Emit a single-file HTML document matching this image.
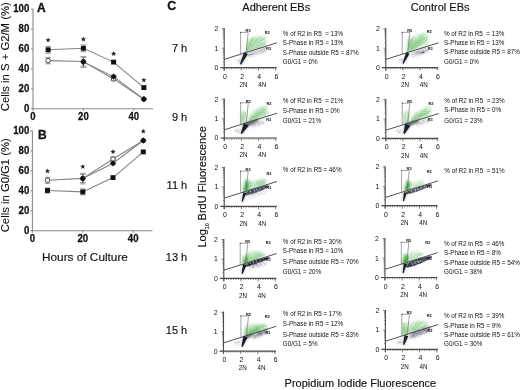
<!DOCTYPE html>
<html><head><meta charset="utf-8"><title>Figure</title>
<style>
html,body{margin:0;padding:0;background:#fff;width:520px;height:390px;overflow:hidden}
svg{display:block;filter:blur(0.35px)}
text{font-family:"Liberation Sans", sans-serif;fill:#111}
</style></head>
<body>
<svg xmlns="http://www.w3.org/2000/svg" width="520" height="390" viewBox="0 0 520 390">
<defs>
<filter id="b0" x="-50%" y="-50%" width="200%" height="200%"><feGaussianBlur stdDeviation="0.4"/></filter>
<filter id="b1" x="-50%" y="-50%" width="200%" height="200%"><feGaussianBlur stdDeviation="0.8"/></filter>
<filter id="b4" x="-50%" y="-50%" width="200%" height="200%"><feGaussianBlur stdDeviation="0.6"/></filter>
<filter id="b5" x="-50%" y="-50%" width="200%" height="200%"><feGaussianBlur in="SourceGraphic" stdDeviation="0.6" result="b"/><feTurbulence type="fractalNoise" baseFrequency="0.8 0.8" numOctaves="2" seed="9" result="n"/><feColorMatrix in="n" type="matrix" values="0 0 0 0 0 0 0 0 0 0 0 0 0 0 0 2.6 0 0 0 -0.3" result="na"/><feGaussianBlur in="na" stdDeviation="0.4" result="nb"/><feComposite in="b" in2="nb" operator="in"/></filter>
<filter id="b2" x="-50%" y="-50%" width="200%" height="200%"><feGaussianBlur stdDeviation="1.4"/></filter>
<filter id="b3" x="-50%" y="-50%" width="200%" height="200%"><feGaussianBlur in="SourceGraphic" stdDeviation="1.5" result="b"/><feTurbulence type="fractalNoise" baseFrequency="0.45 0.8" numOctaves="2" seed="4" result="n"/><feColorMatrix in="n" type="matrix" values="0 0 0 0 0 0 0 0 0 0 0 0 0 0 0 1.8 0 0 0 0.05" result="na"/><feGaussianBlur in="na" stdDeviation="0.5" result="nb"/><feComposite in="b" in2="nb" operator="in"/></filter>
</defs>
<rect width="520" height="390" fill="#fff"/>
<line x1="33" y1="8.7" x2="33" y2="109.3" stroke="#8a8a8a" stroke-width="1.1"/>
<line x1="32.5" y1="108.8" x2="153" y2="108.8" stroke="#8a8a8a" stroke-width="1.1"/>
<line x1="30.8" y1="108.8" x2="33" y2="108.8" stroke="#8a8a8a" stroke-width="1"/>
<text transform="translate(29.3,111.8) scale(1,1.12)" text-anchor="end" font-weight="bold" font-size="9.6" stroke="#111" stroke-width="0.25">0</text>
<line x1="30.8" y1="88.9" x2="33" y2="88.9" stroke="#8a8a8a" stroke-width="1"/>
<text transform="translate(29.3,91.9) scale(1,1.12)" text-anchor="end" font-weight="bold" font-size="9.6" stroke="#111" stroke-width="0.25">20</text>
<line x1="30.8" y1="69.0" x2="33" y2="69.0" stroke="#8a8a8a" stroke-width="1"/>
<text transform="translate(29.3,72.0) scale(1,1.12)" text-anchor="end" font-weight="bold" font-size="9.6" stroke="#111" stroke-width="0.25">40</text>
<line x1="30.8" y1="49.0" x2="33" y2="49.0" stroke="#8a8a8a" stroke-width="1"/>
<text transform="translate(29.3,52.0) scale(1,1.12)" text-anchor="end" font-weight="bold" font-size="9.6" stroke="#111" stroke-width="0.25">60</text>
<line x1="30.8" y1="29.1" x2="33" y2="29.1" stroke="#8a8a8a" stroke-width="1"/>
<text transform="translate(29.3,32.1) scale(1,1.12)" text-anchor="end" font-weight="bold" font-size="9.6" stroke="#111" stroke-width="0.25">80</text>
<line x1="30.8" y1="9.2" x2="33" y2="9.2" stroke="#8a8a8a" stroke-width="1"/>
<text transform="translate(29.3,12.2) scale(1,1.12)" text-anchor="end" font-weight="bold" font-size="9.6" stroke="#111" stroke-width="0.25">100</text>
<line x1="33.0" y1="108.8" x2="33.0" y2="110.8" stroke="#8a8a8a" stroke-width="1"/>
<text transform="translate(33.0,120.3) scale(1,1.12)" text-anchor="middle" font-weight="bold" font-size="9.6" stroke="#111" stroke-width="0.25">0</text>
<line x1="83.4" y1="108.8" x2="83.4" y2="110.8" stroke="#8a8a8a" stroke-width="1"/>
<text transform="translate(83.4,120.3) scale(1,1.12)" text-anchor="middle" font-weight="bold" font-size="9.6" stroke="#111" stroke-width="0.25">20</text>
<line x1="133.8" y1="108.8" x2="133.8" y2="110.8" stroke="#8a8a8a" stroke-width="1"/>
<text transform="translate(133.8,120.3) scale(1,1.12)" text-anchor="middle" font-weight="bold" font-size="9.6" stroke="#111" stroke-width="0.25">40</text>
<text transform="translate(9.2,111.2) rotate(-90)" font-size="11.3" stroke="#111" stroke-width="0.1">Cells in S + G2/M (%)</text>
<text x="37.0" y="12.4" font-weight="bold" font-size="12" stroke="#111" stroke-width="0.3">A</text>
<polyline points="48.1,60.6 83.4,61.5 113.6,78.9 143.9,99.2" fill="none" stroke="#858585" stroke-width="1.1"/>
<polyline points="83.4,62.1 113.6,76.6 143.9,99.2" fill="none" stroke="#858585" stroke-width="1.1"/>
<polyline points="48.1,49.8 83.4,48.3 113.6,62.1 143.9,87.6" fill="none" stroke="#858585" stroke-width="1.1"/>
<line x1="48.1" y1="57.4" x2="48.1" y2="63.8" stroke="#666" stroke-width="0.8"/>
<line x1="45.2" y1="57.4" x2="51.0" y2="57.4" stroke="#777" stroke-width="0.75"/>
<line x1="45.2" y1="63.8" x2="51.0" y2="63.8" stroke="#777" stroke-width="0.75"/>
<circle cx="48.1" cy="60.6" r="2.3" fill="#fff" stroke="#333" stroke-width="0.9"/>
<line x1="83.4" y1="57.0" x2="83.4" y2="66.0" stroke="#666" stroke-width="0.8"/>
<line x1="80.5" y1="57.0" x2="86.3" y2="57.0" stroke="#777" stroke-width="0.75"/>
<line x1="80.5" y1="66.0" x2="86.3" y2="66.0" stroke="#777" stroke-width="0.75"/>
<circle cx="83.4" cy="61.5" r="2.3" fill="#fff" stroke="#333" stroke-width="0.9"/>
<line x1="113.6" y1="77.1" x2="113.6" y2="80.7" stroke="#666" stroke-width="0.8"/>
<line x1="110.7" y1="77.1" x2="116.5" y2="77.1" stroke="#777" stroke-width="0.75"/>
<line x1="110.7" y1="80.7" x2="116.5" y2="80.7" stroke="#777" stroke-width="0.75"/>
<circle cx="113.6" cy="78.9" r="2.3" fill="#fff" stroke="#333" stroke-width="0.9"/>
<circle cx="143.9" cy="99.2" r="2.3" fill="#fff" stroke="#333" stroke-width="0.9"/>
<line x1="83.4" y1="56.8" x2="83.4" y2="67.4" stroke="#666" stroke-width="0.8"/>
<line x1="80.5" y1="56.8" x2="86.3" y2="56.8" stroke="#777" stroke-width="0.75"/>
<line x1="80.5" y1="67.4" x2="86.3" y2="67.4" stroke="#777" stroke-width="0.75"/>
<path d="M83.4,59.0 L86.5,62.1 L83.4,65.2 L80.3,62.1 Z" fill="#111"/>
<line x1="113.6" y1="75.1" x2="113.6" y2="78.1" stroke="#666" stroke-width="0.8"/>
<line x1="110.7" y1="75.1" x2="116.5" y2="75.1" stroke="#777" stroke-width="0.75"/>
<line x1="110.7" y1="78.1" x2="116.5" y2="78.1" stroke="#777" stroke-width="0.75"/>
<path d="M113.6,73.5 L116.7,76.6 L113.6,79.7 L110.5,76.6 Z" fill="#111"/>
<path d="M143.9,96.1 L147.0,99.2 L143.9,102.3 L140.8,99.2 Z" fill="#111"/>
<line x1="48.1" y1="46.4" x2="48.1" y2="53.2" stroke="#666" stroke-width="0.8"/>
<line x1="45.2" y1="46.4" x2="51.0" y2="46.4" stroke="#777" stroke-width="0.75"/>
<line x1="45.2" y1="53.2" x2="51.0" y2="53.2" stroke="#777" stroke-width="0.75"/>
<rect x="45.6" y="47.4" width="5" height="4.8" fill="#111"/>
<line x1="83.4" y1="44.9" x2="83.4" y2="51.7" stroke="#666" stroke-width="0.8"/>
<line x1="80.5" y1="44.9" x2="86.3" y2="44.9" stroke="#777" stroke-width="0.75"/>
<line x1="80.5" y1="51.7" x2="86.3" y2="51.7" stroke="#777" stroke-width="0.75"/>
<rect x="80.9" y="45.9" width="5" height="4.8" fill="#111"/>
<rect x="111.1" y="59.7" width="5" height="4.8" fill="#111"/>
<rect x="141.4" y="85.2" width="5" height="4.8" fill="#111"/>
<path d="M48.12,37.35 L48.80,39.17 L50.74,39.25 L49.21,40.46 L49.74,42.32 L48.12,41.25 L46.50,42.32 L47.03,40.46 L45.50,39.25 L47.44,39.17Z" fill="#222"/>
<path d="M83.40,36.55 L84.08,38.37 L86.02,38.45 L84.49,39.66 L85.02,41.52 L83.40,40.45 L81.78,41.52 L82.31,39.66 L80.78,38.45 L82.72,38.37Z" fill="#222"/>
<path d="M113.64,51.05 L114.32,52.87 L116.26,52.95 L114.73,54.16 L115.26,56.02 L113.64,54.95 L112.02,56.02 L112.55,54.16 L111.02,52.95 L112.96,52.87Z" fill="#222"/>
<path d="M143.88,77.45 L144.56,79.27 L146.50,79.35 L144.97,80.56 L145.50,82.42 L143.88,81.35 L142.26,82.42 L142.79,80.56 L141.26,79.35 L143.20,79.27Z" fill="#222"/>
<line x1="32.4" y1="130.6" x2="32.4" y2="231.2" stroke="#8a8a8a" stroke-width="1.1"/>
<line x1="31.9" y1="230.7" x2="152.4" y2="230.7" stroke="#8a8a8a" stroke-width="1.1"/>
<line x1="30.2" y1="230.7" x2="32.4" y2="230.7" stroke="#8a8a8a" stroke-width="1"/>
<text transform="translate(29.3,233.7) scale(1,1.12)" text-anchor="end" font-weight="bold" font-size="9.6" stroke="#111" stroke-width="0.25">0</text>
<line x1="30.2" y1="210.8" x2="32.4" y2="210.8" stroke="#8a8a8a" stroke-width="1"/>
<text transform="translate(29.3,213.8) scale(1,1.12)" text-anchor="end" font-weight="bold" font-size="9.6" stroke="#111" stroke-width="0.25">20</text>
<line x1="30.2" y1="190.9" x2="32.4" y2="190.9" stroke="#8a8a8a" stroke-width="1"/>
<text transform="translate(29.3,193.9) scale(1,1.12)" text-anchor="end" font-weight="bold" font-size="9.6" stroke="#111" stroke-width="0.25">40</text>
<line x1="30.2" y1="170.9" x2="32.4" y2="170.9" stroke="#8a8a8a" stroke-width="1"/>
<text transform="translate(29.3,173.9) scale(1,1.12)" text-anchor="end" font-weight="bold" font-size="9.6" stroke="#111" stroke-width="0.25">60</text>
<line x1="30.2" y1="151.0" x2="32.4" y2="151.0" stroke="#8a8a8a" stroke-width="1"/>
<text transform="translate(29.3,154.0) scale(1,1.12)" text-anchor="end" font-weight="bold" font-size="9.6" stroke="#111" stroke-width="0.25">80</text>
<line x1="30.2" y1="131.1" x2="32.4" y2="131.1" stroke="#8a8a8a" stroke-width="1"/>
<text transform="translate(29.3,134.1) scale(1,1.12)" text-anchor="end" font-weight="bold" font-size="9.6" stroke="#111" stroke-width="0.25">100</text>
<line x1="32.4" y1="230.7" x2="32.4" y2="232.7" stroke="#8a8a8a" stroke-width="1"/>
<text transform="translate(32.4,242.2) scale(1,1.12)" text-anchor="middle" font-weight="bold" font-size="9.6" stroke="#111" stroke-width="0.25">0</text>
<line x1="82.8" y1="230.7" x2="82.8" y2="232.7" stroke="#8a8a8a" stroke-width="1"/>
<text transform="translate(82.8,242.2) scale(1,1.12)" text-anchor="middle" font-weight="bold" font-size="9.6" stroke="#111" stroke-width="0.25">20</text>
<line x1="133.2" y1="230.7" x2="133.2" y2="232.7" stroke="#8a8a8a" stroke-width="1"/>
<text transform="translate(133.2,242.2) scale(1,1.12)" text-anchor="middle" font-weight="bold" font-size="9.6" stroke="#111" stroke-width="0.25">40</text>
<text transform="translate(9.2,232.3) rotate(-90)" font-size="11.3" stroke="#111" stroke-width="0.1">Cells in G0/G1 (%)</text>
<text x="38.0" y="138.7" font-weight="bold" font-size="12" stroke="#111" stroke-width="0.3">B</text>
<polyline points="47.5,180.3 82.8,178.4 113.0,159.0 143.3,140.5" fill="none" stroke="#858585" stroke-width="1.1"/>
<polyline points="82.8,178.6 113.0,163.3 143.3,140.5" fill="none" stroke="#858585" stroke-width="1.1"/>
<polyline points="47.5,190.5 82.8,191.9 113.0,177.6 143.3,151.9" fill="none" stroke="#858585" stroke-width="1.1"/>
<line x1="47.5" y1="177.3" x2="47.5" y2="183.3" stroke="#666" stroke-width="0.8"/>
<line x1="44.6" y1="177.3" x2="50.4" y2="177.3" stroke="#777" stroke-width="0.75"/>
<line x1="44.6" y1="183.3" x2="50.4" y2="183.3" stroke="#777" stroke-width="0.75"/>
<circle cx="47.5" cy="180.3" r="2.3" fill="#fff" stroke="#333" stroke-width="0.9"/>
<line x1="82.8" y1="174.4" x2="82.8" y2="182.4" stroke="#666" stroke-width="0.8"/>
<line x1="79.9" y1="174.4" x2="85.7" y2="174.4" stroke="#777" stroke-width="0.75"/>
<line x1="79.9" y1="182.4" x2="85.7" y2="182.4" stroke="#777" stroke-width="0.75"/>
<circle cx="82.8" cy="178.4" r="2.3" fill="#fff" stroke="#333" stroke-width="0.9"/>
<line x1="113.0" y1="157.0" x2="113.0" y2="161.0" stroke="#666" stroke-width="0.8"/>
<line x1="110.1" y1="157.0" x2="115.9" y2="157.0" stroke="#777" stroke-width="0.75"/>
<line x1="110.1" y1="161.0" x2="115.9" y2="161.0" stroke="#777" stroke-width="0.75"/>
<circle cx="113.0" cy="159.0" r="2.3" fill="#fff" stroke="#333" stroke-width="0.9"/>
<circle cx="143.3" cy="140.5" r="2.3" fill="#fff" stroke="#333" stroke-width="0.9"/>
<line x1="82.8" y1="173.3" x2="82.8" y2="183.9" stroke="#666" stroke-width="0.8"/>
<line x1="79.9" y1="173.3" x2="85.7" y2="173.3" stroke="#777" stroke-width="0.75"/>
<line x1="79.9" y1="183.9" x2="85.7" y2="183.9" stroke="#777" stroke-width="0.75"/>
<path d="M82.8,175.5 L85.9,178.6 L82.8,181.7 L79.7,178.6 Z" fill="#111"/>
<line x1="113.0" y1="161.8" x2="113.0" y2="164.8" stroke="#666" stroke-width="0.8"/>
<line x1="110.1" y1="161.8" x2="115.9" y2="161.8" stroke="#777" stroke-width="0.75"/>
<line x1="110.1" y1="164.8" x2="115.9" y2="164.8" stroke="#777" stroke-width="0.75"/>
<path d="M113.0,160.2 L116.1,163.3 L113.0,166.4 L109.9,163.3 Z" fill="#111"/>
<path d="M143.3,137.4 L146.4,140.5 L143.3,143.6 L140.2,140.5 Z" fill="#111"/>
<line x1="47.5" y1="188.0" x2="47.5" y2="193.0" stroke="#666" stroke-width="0.8"/>
<line x1="44.6" y1="188.0" x2="50.4" y2="188.0" stroke="#777" stroke-width="0.75"/>
<line x1="44.6" y1="193.0" x2="50.4" y2="193.0" stroke="#777" stroke-width="0.75"/>
<rect x="45.0" y="188.1" width="5" height="4.8" fill="#111"/>
<line x1="82.8" y1="188.9" x2="82.8" y2="194.9" stroke="#666" stroke-width="0.8"/>
<line x1="79.9" y1="188.9" x2="85.7" y2="188.9" stroke="#777" stroke-width="0.75"/>
<line x1="79.9" y1="194.9" x2="85.7" y2="194.9" stroke="#777" stroke-width="0.75"/>
<rect x="80.3" y="189.5" width="5" height="4.8" fill="#111"/>
<rect x="110.5" y="175.2" width="5" height="4.8" fill="#111"/>
<rect x="140.8" y="149.5" width="5" height="4.8" fill="#111"/>
<path d="M47.52,168.45 L48.20,170.27 L50.14,170.35 L48.61,171.56 L49.14,173.42 L47.52,172.35 L45.90,173.42 L46.43,171.56 L44.90,170.35 L46.84,170.27Z" fill="#222"/>
<path d="M82.80,163.95 L83.48,165.77 L85.42,165.85 L83.89,167.06 L84.42,168.92 L82.80,167.85 L81.18,168.92 L81.71,167.06 L80.18,165.85 L82.12,165.77Z" fill="#222"/>
<path d="M113.04,149.05 L113.72,150.87 L115.66,150.95 L114.13,152.16 L114.66,154.02 L113.04,152.95 L111.42,154.02 L111.95,152.16 L110.42,150.95 L112.36,150.87Z" fill="#222"/>
<path d="M143.28,128.65 L143.96,130.47 L145.90,130.55 L144.37,131.76 L144.90,133.62 L143.28,132.55 L141.66,133.62 L142.19,131.76 L140.66,130.55 L142.60,130.47Z" fill="#222"/>
<text x="42.0" y="260.8" font-size="11.8" stroke="#111" stroke-width="0.15">Hours of Culture</text>
<text x="167.2" y="9.7" font-weight="bold" font-size="12.4" stroke="#111" stroke-width="0.3">C</text>
<text x="242.3" y="10.6" font-size="11" stroke="#111" stroke-width="0.15">Adherent EBs</text>
<text x="410.8" y="10.6" font-size="11" stroke="#111" stroke-width="0.15">Control EBs</text>
<text x="284.6" y="387" font-size="11" stroke="#111" stroke-width="0.15">Propidium Iodide Fluorescence</text>
<text transform="translate(205.6,247.6) rotate(-90)" font-size="11" stroke="#111" stroke-width="0.15">Log<tspan font-size="5.2" dy="3.0">10</tspan><tspan dy="-3.0"> BrdU Fluorescence</tspan></text>
<text x="187.2" y="51.7" text-anchor="end" font-size="11" stroke="#111" stroke-width="0.15">7 h</text>
<text x="187.2" y="120.9" text-anchor="end" font-size="11" stroke="#111" stroke-width="0.15">9 h</text>
<text x="187.2" y="188.8" text-anchor="end" font-size="11" stroke="#111" stroke-width="0.15">11 h</text>
<text x="187.2" y="260.9" text-anchor="end" font-size="11" stroke="#111" stroke-width="0.15">13 h</text>
<text x="187.2" y="333.5" text-anchor="end" font-size="11" stroke="#111" stroke-width="0.15">15 h</text>
<g transform="translate(224.2,67.6)">
<path d="M13.2,-4.7 L16.6,-6.9 L15.4,-9.1 L11.8,-7.3Z" fill="#9a9aa8" opacity="0.3" filter="url(#b2)"/>
<g fill="#555570" filter="url(#b0)"><circle cx="15.5" cy="-8.0" r="0.58" opacity="0.22"/><circle cx="15.8" cy="-7.2" r="0.68" opacity="0.13"/><circle cx="13.9" cy="-5.9" r="0.47" opacity="0.32"/><circle cx="16.3" cy="-7.4" r="0.47" opacity="0.22"/><circle cx="13.9" cy="-6.9" r="0.47" opacity="0.18"/><circle cx="12.8" cy="-7.1" r="0.50" opacity="0.14"/></g>
<path d="M21.5,-15.0 L23.0,-26.0 L27.0,-30.0 L33.0,-31.0 L40.5,-31.5 L42.0,-29.0 L42.0,-21.4Z" fill="#a2d8a2" opacity="0.637" filter="url(#b3)"/>
<clipPath id="cp1"><path d="M21.5,-15.0 L23.0,-26.0 L27.0,-30.0 L33.0,-31.0 L40.5,-31.5 L42.0,-29.0 L42.0,-21.4Z"/></clipPath><g clip-path="url(#cp1)"><g filter="url(#b4)" stroke="#62b362" stroke-linecap="round"><line x1="23.5" y1="-18.7" x2="26.9" y2="-27.5" stroke-width="0.38" opacity="0.13"/><line x1="25.9" y1="-17.8" x2="40.3" y2="-30.1" stroke-width="0.73" opacity="0.22"/><line x1="26.4" y1="-18.6" x2="35.9" y2="-31.1" stroke-width="0.68" opacity="0.26"/><line x1="22.9" y1="-15.5" x2="22.9" y2="-25.5" stroke-width="0.74" opacity="0.22"/><line x1="26.2" y1="-16.2" x2="37.7" y2="-24.4" stroke-width="0.71" opacity="0.21"/><line x1="23.2" y1="-16.6" x2="42.6" y2="-24.4" stroke-width="0.78" opacity="0.21"/><line x1="24.8" y1="-17.7" x2="35.6" y2="-29.7" stroke-width="0.61" opacity="0.24"/><line x1="33.0" y1="-20.2" x2="41.8" y2="-26.2" stroke-width="0.65" opacity="0.16"/><line x1="30.1" y1="-17.9" x2="40.9" y2="-23.6" stroke-width="0.45" opacity="0.29"/><line x1="27.5" y1="-22.0" x2="34.4" y2="-29.9" stroke-width="0.39" opacity="0.28"/><line x1="25.6" y1="-21.7" x2="30.7" y2="-31.1" stroke-width="0.37" opacity="0.25"/><line x1="22.2" y1="-19.9" x2="22.5" y2="-25.8" stroke-width="0.58" opacity="0.32"/><line x1="23.4" y1="-17.5" x2="28.5" y2="-31.8" stroke-width="0.53" opacity="0.25"/><line x1="24.5" y1="-23.4" x2="25.0" y2="-32.1" stroke-width="0.75" opacity="0.20"/><line x1="25.5" y1="-18.4" x2="31.9" y2="-27.7" stroke-width="0.63" opacity="0.31"/><line x1="24.8" y1="-17.5" x2="32.9" y2="-28.5" stroke-width="0.79" opacity="0.23"/><line x1="22.3" y1="-15.0" x2="33.8" y2="-32.4" stroke-width="0.63" opacity="0.25"/><line x1="22.5" y1="-16.7" x2="22.9" y2="-26.7" stroke-width="0.67" opacity="0.27"/><line x1="23.1" y1="-16.3" x2="22.0" y2="-31.9" stroke-width="0.56" opacity="0.24"/><line x1="23.8" y1="-19.4" x2="28.7" y2="-29.1" stroke-width="0.49" opacity="0.20"/><line x1="25.3" y1="-17.3" x2="38.9" y2="-32.3" stroke-width="0.45" opacity="0.28"/><line x1="22.5" y1="-15.4" x2="26.9" y2="-30.8" stroke-width="0.49" opacity="0.19"/><line x1="26.7" y1="-17.8" x2="40.3" y2="-28.4" stroke-width="0.64" opacity="0.30"/><line x1="22.0" y1="-16.4" x2="31.6" y2="-30.4" stroke-width="0.71" opacity="0.29"/><line x1="24.5" y1="-20.8" x2="25.6" y2="-29.9" stroke-width="0.51" opacity="0.15"/><line x1="22.9" y1="-17.3" x2="28.1" y2="-25.1" stroke-width="0.54" opacity="0.21"/><line x1="30.1" y1="-21.6" x2="42.2" y2="-31.1" stroke-width="0.79" opacity="0.21"/><line x1="30.4" y1="-18.4" x2="42.9" y2="-23.9" stroke-width="0.65" opacity="0.23"/><line x1="23.4" y1="-19.8" x2="28.0" y2="-29.3" stroke-width="0.48" opacity="0.28"/><line x1="22.9" y1="-18.6" x2="22.5" y2="-24.1" stroke-width="0.75" opacity="0.24"/><line x1="21.4" y1="-18.8" x2="21.8" y2="-25.6" stroke-width="0.59" opacity="0.21"/><line x1="30.8" y1="-20.4" x2="42.6" y2="-26.8" stroke-width="0.56" opacity="0.28"/><line x1="23.2" y1="-15.7" x2="29.4" y2="-30.7" stroke-width="0.71" opacity="0.30"/><line x1="28.8" y1="-19.1" x2="39.6" y2="-24.9" stroke-width="0.37" opacity="0.18"/><line x1="24.3" y1="-19.9" x2="27.5" y2="-27.6" stroke-width="0.35" opacity="0.14"/><line x1="22.3" y1="-21.4" x2="24.4" y2="-31.3" stroke-width="0.39" opacity="0.22"/><line x1="23.9" y1="-19.1" x2="28.6" y2="-29.6" stroke-width="0.51" opacity="0.16"/><line x1="23.9" y1="-17.7" x2="28.9" y2="-31.4" stroke-width="0.39" opacity="0.16"/></g></g>
<path d="M24.0,-14.3 L42.0,-19.9 L42.0,-16.4 L24.0,-10.8Z" fill="#7c7a94" opacity="0.55" filter="url(#b3)"/>
<g fill="#555570" filter="url(#b0)"><circle cx="40.2" cy="-18.9" r="0.57" opacity="0.33"/><circle cx="33.8" cy="-14.7" r="0.39" opacity="0.32"/><circle cx="37.8" cy="-18.5" r="0.69" opacity="0.29"/><circle cx="24.0" cy="-11.9" r="0.47" opacity="0.32"/><circle cx="40.1" cy="-17.2" r="0.52" opacity="0.30"/><circle cx="29.4" cy="-14.4" r="0.39" opacity="0.49"/><circle cx="38.7" cy="-15.5" r="0.51" opacity="0.42"/><circle cx="41.6" cy="-19.7" r="0.67" opacity="0.55"/><circle cx="24.3" cy="-12.7" r="0.53" opacity="0.45"/><circle cx="27.5" cy="-13.0" r="0.74" opacity="0.58"/><circle cx="25.9" cy="-13.1" r="0.69" opacity="0.55"/><circle cx="24.7" cy="-11.3" r="0.42" opacity="0.37"/></g>
<path d="M17.4,-2.7 L23.7,-13.6 L19.9,-15.4 L15.2,-3.7Z" fill="#4a5060" opacity=".38" filter="url(#b2)"/>
<path d="M16.8,-2.9 L23.7,-13.6 L19.9,-15.4 L15.8,-3.5Z" fill="#121826" opacity="0.95" filter="url(#b4)"/>
<line x1="0" y1="-39.5" x2="0" y2="2.8" stroke="#4a4a4a" stroke-width="1.1"/>
<line x1="-4" y1="0" x2="52.5" y2="0" stroke="#4a4a4a" stroke-width="1.2"/>
<line x1="0.00" y1="0" x2="0.00" y2="1.6" stroke="#555" stroke-width="0.7"/>
<line x1="2.45" y1="0" x2="2.45" y2="1.6" stroke="#555" stroke-width="0.7"/>
<line x1="4.90" y1="0" x2="4.90" y2="1.6" stroke="#555" stroke-width="0.7"/>
<line x1="7.35" y1="0" x2="7.35" y2="1.6" stroke="#555" stroke-width="0.7"/>
<line x1="9.79" y1="0" x2="9.79" y2="1.6" stroke="#555" stroke-width="0.7"/>
<line x1="12.24" y1="0" x2="12.24" y2="1.6" stroke="#555" stroke-width="0.7"/>
<line x1="14.69" y1="0" x2="14.69" y2="1.6" stroke="#555" stroke-width="0.7"/>
<line x1="17.14" y1="0" x2="17.14" y2="1.6" stroke="#555" stroke-width="0.7"/>
<line x1="19.59" y1="0" x2="19.59" y2="1.6" stroke="#555" stroke-width="0.7"/>
<line x1="22.04" y1="0" x2="22.04" y2="1.6" stroke="#555" stroke-width="0.7"/>
<line x1="24.49" y1="0" x2="24.49" y2="1.6" stroke="#555" stroke-width="0.7"/>
<line x1="26.93" y1="0" x2="26.93" y2="1.6" stroke="#555" stroke-width="0.7"/>
<line x1="29.38" y1="0" x2="29.38" y2="1.6" stroke="#555" stroke-width="0.7"/>
<line x1="31.83" y1="0" x2="31.83" y2="1.6" stroke="#555" stroke-width="0.7"/>
<line x1="34.28" y1="0" x2="34.28" y2="1.6" stroke="#555" stroke-width="0.7"/>
<line x1="36.73" y1="0" x2="36.73" y2="1.6" stroke="#555" stroke-width="0.7"/>
<line x1="39.18" y1="0" x2="39.18" y2="1.6" stroke="#555" stroke-width="0.7"/>
<line x1="41.63" y1="0" x2="41.63" y2="1.6" stroke="#555" stroke-width="0.7"/>
<line x1="44.07" y1="0" x2="44.07" y2="1.6" stroke="#555" stroke-width="0.7"/>
<line x1="46.52" y1="0" x2="46.52" y2="1.6" stroke="#555" stroke-width="0.7"/>
<line x1="48.97" y1="0" x2="48.97" y2="1.6" stroke="#555" stroke-width="0.7"/>
<line x1="51.42" y1="0" x2="51.42" y2="1.6" stroke="#555" stroke-width="0.7"/>
<line x1="0.00" y1="0" x2="0.00" y2="3" stroke="#555" stroke-width="0.7"/>
<line x1="17.14" y1="0" x2="17.14" y2="3" stroke="#555" stroke-width="0.7"/>
<line x1="34.28" y1="0" x2="34.28" y2="3" stroke="#555" stroke-width="0.7"/>
<line x1="51.42" y1="0" x2="51.42" y2="3" stroke="#555" stroke-width="0.7"/>
<line x1="-2.4" y1="-0.00" x2="0" y2="-0.00" stroke="#555" stroke-width="0.6"/>
<line x1="-1.4" y1="-5.84" x2="0" y2="-5.84" stroke="#555" stroke-width="0.6"/>
<line x1="-1.4" y1="-9.26" x2="0" y2="-9.26" stroke="#555" stroke-width="0.6"/>
<line x1="-1.4" y1="-11.68" x2="0" y2="-11.68" stroke="#555" stroke-width="0.6"/>
<line x1="-1.4" y1="-13.56" x2="0" y2="-13.56" stroke="#555" stroke-width="0.6"/>
<line x1="-1.4" y1="-15.10" x2="0" y2="-15.10" stroke="#555" stroke-width="0.6"/>
<line x1="-1.4" y1="-16.39" x2="0" y2="-16.39" stroke="#555" stroke-width="0.6"/>
<line x1="-1.4" y1="-17.52" x2="0" y2="-17.52" stroke="#555" stroke-width="0.6"/>
<line x1="-1.4" y1="-18.51" x2="0" y2="-18.51" stroke="#555" stroke-width="0.6"/>
<line x1="-2.4" y1="-19.40" x2="0" y2="-19.40" stroke="#555" stroke-width="0.6"/>
<line x1="-1.4" y1="-25.24" x2="0" y2="-25.24" stroke="#555" stroke-width="0.6"/>
<line x1="-1.4" y1="-28.66" x2="0" y2="-28.66" stroke="#555" stroke-width="0.6"/>
<line x1="-1.4" y1="-31.08" x2="0" y2="-31.08" stroke="#555" stroke-width="0.6"/>
<line x1="-1.4" y1="-32.96" x2="0" y2="-32.96" stroke="#555" stroke-width="0.6"/>
<line x1="-1.4" y1="-34.50" x2="0" y2="-34.50" stroke="#555" stroke-width="0.6"/>
<line x1="-1.4" y1="-35.79" x2="0" y2="-35.79" stroke="#555" stroke-width="0.6"/>
<line x1="-1.4" y1="-36.92" x2="0" y2="-36.92" stroke="#555" stroke-width="0.6"/>
<line x1="-1.4" y1="-37.91" x2="0" y2="-37.91" stroke="#555" stroke-width="0.6"/>
<line x1="-2.4" y1="-38.80" x2="0" y2="-38.80" stroke="#555" stroke-width="0.7"/>
<text x="-7.9" y="2.40" text-anchor="middle" font-size="6.9" fill="#222">0</text>
<text x="-7.9" y="-17.00" text-anchor="middle" font-size="6.9" fill="#222">1</text>
<text x="-7.9" y="-36.40" text-anchor="middle" font-size="6.9" fill="#222">2</text>
<text x="0.80" y="11.0" text-anchor="middle" font-size="6.9" fill="#222">0</text>
<text x="17.94" y="11.0" text-anchor="middle" font-size="6.9" fill="#222">2</text>
<text x="35.08" y="11.0" text-anchor="middle" font-size="6.9" fill="#222">4</text>
<text x="52.22" y="11.0" text-anchor="middle" font-size="6.9" fill="#222">6</text>
<text x="19.3" y="19.4" text-anchor="middle" font-size="7" textLength="8" lengthAdjust="spacingAndGlyphs" fill="#222">2N</text>
<text x="38.0" y="19.4" text-anchor="middle" font-size="7" textLength="8" lengthAdjust="spacingAndGlyphs" fill="#222">4N</text>
<line x1="0" y1="-8.2" x2="52.8" y2="-24.83" stroke="#333" stroke-width="0.85"/>
<g transform="translate(0,0)">
<polyline points="16.4,-13.4 16.4,-35.2 24,-35.2 21.9,-14.9" fill="none" stroke="#666" stroke-width="0.6"/>
<circle cx="16.4" cy="-35.2" r="0.6" fill="#444"/>
<text x="21.4" y="-35.4" font-size="3.9" font-weight="bold" fill="#444">R5</text>
</g>
<text x="40.6" y="-34" font-size="3.9" font-weight="bold" fill="#555">R2</text>
<text x="42" y="-17.4" font-size="3.9" font-weight="bold" fill="#555">R3</text>
</g>
<g transform="translate(224.3,138.0)">
<path d="M12.6,-4.3 L16.3,-7.2 L14.7,-9.8 L10.4,-7.7Z" fill="#9a9aa8" opacity="0.35" filter="url(#b2)"/>
<g fill="#555570" filter="url(#b0)"><circle cx="13.2" cy="-6.2" r="0.64" opacity="0.19"/><circle cx="10.5" cy="-7.7" r="0.49" opacity="0.34"/><circle cx="14.5" cy="-6.5" r="0.60" opacity="0.31"/><circle cx="11.3" cy="-7.4" r="0.45" opacity="0.36"/><circle cx="12.4" cy="-7.6" r="0.71" opacity="0.16"/><circle cx="11.1" cy="-7.5" r="0.44" opacity="0.23"/></g>
<path d="M16.0,-13.2 L16.0,-26.7 L23.0,-26.7 L23.0,-15.4Z" fill="#a2d8a2" opacity="0.425" filter="url(#b3)"/>
<clipPath id="cp2"><path d="M16.0,-13.2 L16.0,-26.7 L23.0,-26.7 L23.0,-15.4Z"/></clipPath><g clip-path="url(#cp2)"><g filter="url(#b4)" stroke="#62b362" stroke-linecap="round"><line x1="18.9" y1="-18.1" x2="21.1" y2="-24.4" stroke-width="0.72" opacity="0.18"/><line x1="16.8" y1="-18.5" x2="17.4" y2="-23.7" stroke-width="0.80" opacity="0.10"/><line x1="19.0" y1="-16.8" x2="23.7" y2="-23.0" stroke-width="0.56" opacity="0.18"/><line x1="20.0" y1="-19.3" x2="22.0" y2="-26.7" stroke-width="0.63" opacity="0.10"/><line x1="18.3" y1="-16.0" x2="16.0" y2="-26.7" stroke-width="0.75" opacity="0.13"/><line x1="17.7" y1="-17.8" x2="20.9" y2="-24.3" stroke-width="0.42" opacity="0.12"/><line x1="17.9" y1="-17.5" x2="19.7" y2="-27.4" stroke-width="0.59" opacity="0.21"/><line x1="16.5" y1="-13.6" x2="17.3" y2="-23.3" stroke-width="0.70" opacity="0.10"/><line x1="18.5" y1="-15.0" x2="17.5" y2="-21.5" stroke-width="0.46" opacity="0.13"/><line x1="16.0" y1="-14.4" x2="21.6" y2="-26.3" stroke-width="0.64" opacity="0.20"/><line x1="16.4" y1="-13.4" x2="23.0" y2="-24.0" stroke-width="0.67" opacity="0.14"/><line x1="17.2" y1="-15.8" x2="18.9" y2="-27.1" stroke-width="0.74" opacity="0.18"/><line x1="18.5" y1="-16.3" x2="18.2" y2="-23.6" stroke-width="0.38" opacity="0.16"/><line x1="17.6" y1="-16.2" x2="20.2" y2="-24.6" stroke-width="0.57" opacity="0.11"/></g></g>
<path d="M20.7,-14.9 L21.5,-25.9 L19.5,-26.1 L18.3,-15.1Z" fill="#52b052" opacity="0.3" filter="url(#b3)"/>
<path d="M22.5,-15.3 L28.2,-26.7 L36.4,-31.8 L42.6,-32.8 L44.0,-30.0 L44.0,-22.1Z" fill="#a2d8a2" opacity="0.51" filter="url(#b3)"/>
<clipPath id="cp3"><path d="M22.5,-15.3 L28.2,-26.7 L36.4,-31.8 L42.6,-32.8 L44.0,-30.0 L44.0,-22.1Z"/></clipPath><g clip-path="url(#cp3)"><g filter="url(#b4)" stroke="#62b362" stroke-linecap="round"><line x1="24.6" y1="-15.8" x2="28.6" y2="-27.1" stroke-width="0.45" opacity="0.13"/><line x1="22.6" y1="-16.4" x2="27.8" y2="-26.6" stroke-width="0.48" opacity="0.18"/><line x1="23.1" y1="-16.6" x2="42.2" y2="-27.9" stroke-width="0.74" opacity="0.24"/><line x1="31.2" y1="-18.9" x2="41.4" y2="-25.7" stroke-width="0.47" opacity="0.25"/><line x1="25.6" y1="-17.4" x2="33.9" y2="-26.4" stroke-width="0.54" opacity="0.16"/><line x1="24.9" y1="-18.3" x2="25.3" y2="-25.8" stroke-width="0.60" opacity="0.23"/><line x1="23.5" y1="-17.1" x2="25.7" y2="-27.2" stroke-width="0.59" opacity="0.15"/><line x1="25.6" y1="-18.9" x2="33.3" y2="-27.9" stroke-width="0.46" opacity="0.15"/><line x1="24.3" y1="-22.3" x2="27.1" y2="-30.2" stroke-width="0.53" opacity="0.23"/><line x1="31.4" y1="-22.5" x2="44.4" y2="-33.4" stroke-width="0.64" opacity="0.13"/><line x1="25.8" y1="-15.8" x2="32.2" y2="-25.3" stroke-width="0.73" opacity="0.17"/><line x1="30.4" y1="-21.4" x2="39.3" y2="-32.5" stroke-width="0.45" opacity="0.21"/><line x1="25.2" y1="-17.1" x2="36.2" y2="-28.0" stroke-width="0.48" opacity="0.14"/><line x1="27.6" y1="-21.5" x2="38.6" y2="-32.7" stroke-width="0.60" opacity="0.20"/><line x1="22.9" y1="-16.1" x2="23.4" y2="-29.5" stroke-width="0.80" opacity="0.13"/><line x1="25.2" y1="-19.7" x2="29.6" y2="-31.2" stroke-width="0.52" opacity="0.24"/><line x1="23.3" y1="-18.5" x2="22.6" y2="-30.5" stroke-width="0.56" opacity="0.22"/><line x1="25.7" y1="-21.5" x2="29.5" y2="-33.5" stroke-width="0.47" opacity="0.22"/><line x1="26.1" y1="-17.5" x2="42.5" y2="-31.3" stroke-width="0.48" opacity="0.14"/><line x1="26.0" y1="-22.7" x2="30.7" y2="-33.4" stroke-width="0.62" opacity="0.11"/><line x1="26.3" y1="-18.0" x2="40.7" y2="-31.9" stroke-width="0.48" opacity="0.18"/><line x1="22.4" y1="-15.8" x2="25.7" y2="-25.4" stroke-width="0.49" opacity="0.17"/><line x1="23.1" y1="-22.9" x2="23.3" y2="-32.5" stroke-width="0.80" opacity="0.12"/><line x1="29.3" y1="-23.2" x2="35.1" y2="-32.5" stroke-width="0.60" opacity="0.13"/><line x1="24.4" y1="-19.7" x2="22.6" y2="-31.4" stroke-width="0.52" opacity="0.17"/><line x1="32.3" y1="-22.8" x2="41.3" y2="-31.7" stroke-width="0.58" opacity="0.26"/><line x1="28.0" y1="-20.7" x2="32.9" y2="-28.2" stroke-width="0.40" opacity="0.13"/><line x1="29.1" y1="-20.6" x2="35.0" y2="-25.9" stroke-width="0.48" opacity="0.12"/><line x1="24.2" y1="-22.3" x2="23.7" y2="-33.5" stroke-width="0.74" opacity="0.27"/><line x1="30.3" y1="-20.0" x2="41.5" y2="-29.7" stroke-width="0.48" opacity="0.23"/><line x1="25.4" y1="-17.4" x2="25.1" y2="-30.8" stroke-width="0.70" opacity="0.18"/><line x1="22.6" y1="-24.0" x2="22.6" y2="-33.5" stroke-width="0.46" opacity="0.25"/><line x1="29.6" y1="-18.4" x2="42.6" y2="-29.7" stroke-width="0.47" opacity="0.18"/></g></g>
<path d="M27.0,-16.3 L42.3,-24.9 L39.7,-29.1 L25.0,-19.7Z" fill="#52b052" opacity="0.4" filter="url(#b3)"/>
<path d="M27.0,-14.2 L40.0,-18.3 L40.0,-14.3 L27.0,-10.2Z" fill="#7c7a94" opacity="0.35" filter="url(#b3)"/>
<g fill="#555570" filter="url(#b0)"><circle cx="30.4" cy="-13.2" r="0.73" opacity="0.36"/><circle cx="39.4" cy="-14.7" r="0.47" opacity="0.23"/><circle cx="38.8" cy="-15.6" r="0.55" opacity="0.30"/><circle cx="37.5" cy="-14.3" r="0.42" opacity="0.29"/><circle cx="29.5" cy="-12.7" r="0.49" opacity="0.31"/><circle cx="27.3" cy="-12.6" r="0.72" opacity="0.20"/><circle cx="35.4" cy="-15.9" r="0.44" opacity="0.30"/><circle cx="34.8" cy="-14.7" r="0.44" opacity="0.30"/><circle cx="34.2" cy="-14.8" r="0.45" opacity="0.37"/><circle cx="34.9" cy="-14.1" r="0.55" opacity="0.38"/></g>
<path d="M19.5,-14.3 L34.0,-18.9 L34.0,-16.9 L19.5,-10.1Z" fill="#121826" opacity="0.75" filter="url(#b1)"/>
<path d="M18.1,-3.8 L24.4,-12.2 L19.6,-14.8 L15.9,-5.0Z" fill="#4a5060" opacity=".38" filter="url(#b2)"/>
<path d="M17.6,-4.1 L24.4,-12.2 L19.6,-14.8 L16.4,-4.7Z" fill="#121826" opacity="0.95" filter="url(#b4)"/>
<line x1="0" y1="-39.5" x2="0" y2="2.8" stroke="#4a4a4a" stroke-width="1.1"/>
<line x1="-4" y1="0" x2="52.5" y2="0" stroke="#4a4a4a" stroke-width="1.2"/>
<line x1="0.00" y1="0" x2="0.00" y2="1.6" stroke="#555" stroke-width="0.7"/>
<line x1="2.45" y1="0" x2="2.45" y2="1.6" stroke="#555" stroke-width="0.7"/>
<line x1="4.90" y1="0" x2="4.90" y2="1.6" stroke="#555" stroke-width="0.7"/>
<line x1="7.35" y1="0" x2="7.35" y2="1.6" stroke="#555" stroke-width="0.7"/>
<line x1="9.79" y1="0" x2="9.79" y2="1.6" stroke="#555" stroke-width="0.7"/>
<line x1="12.24" y1="0" x2="12.24" y2="1.6" stroke="#555" stroke-width="0.7"/>
<line x1="14.69" y1="0" x2="14.69" y2="1.6" stroke="#555" stroke-width="0.7"/>
<line x1="17.14" y1="0" x2="17.14" y2="1.6" stroke="#555" stroke-width="0.7"/>
<line x1="19.59" y1="0" x2="19.59" y2="1.6" stroke="#555" stroke-width="0.7"/>
<line x1="22.04" y1="0" x2="22.04" y2="1.6" stroke="#555" stroke-width="0.7"/>
<line x1="24.49" y1="0" x2="24.49" y2="1.6" stroke="#555" stroke-width="0.7"/>
<line x1="26.93" y1="0" x2="26.93" y2="1.6" stroke="#555" stroke-width="0.7"/>
<line x1="29.38" y1="0" x2="29.38" y2="1.6" stroke="#555" stroke-width="0.7"/>
<line x1="31.83" y1="0" x2="31.83" y2="1.6" stroke="#555" stroke-width="0.7"/>
<line x1="34.28" y1="0" x2="34.28" y2="1.6" stroke="#555" stroke-width="0.7"/>
<line x1="36.73" y1="0" x2="36.73" y2="1.6" stroke="#555" stroke-width="0.7"/>
<line x1="39.18" y1="0" x2="39.18" y2="1.6" stroke="#555" stroke-width="0.7"/>
<line x1="41.63" y1="0" x2="41.63" y2="1.6" stroke="#555" stroke-width="0.7"/>
<line x1="44.07" y1="0" x2="44.07" y2="1.6" stroke="#555" stroke-width="0.7"/>
<line x1="46.52" y1="0" x2="46.52" y2="1.6" stroke="#555" stroke-width="0.7"/>
<line x1="48.97" y1="0" x2="48.97" y2="1.6" stroke="#555" stroke-width="0.7"/>
<line x1="51.42" y1="0" x2="51.42" y2="1.6" stroke="#555" stroke-width="0.7"/>
<line x1="0.00" y1="0" x2="0.00" y2="3" stroke="#555" stroke-width="0.7"/>
<line x1="17.14" y1="0" x2="17.14" y2="3" stroke="#555" stroke-width="0.7"/>
<line x1="34.28" y1="0" x2="34.28" y2="3" stroke="#555" stroke-width="0.7"/>
<line x1="51.42" y1="0" x2="51.42" y2="3" stroke="#555" stroke-width="0.7"/>
<line x1="-2.4" y1="-0.00" x2="0" y2="-0.00" stroke="#555" stroke-width="0.6"/>
<line x1="-1.4" y1="-5.84" x2="0" y2="-5.84" stroke="#555" stroke-width="0.6"/>
<line x1="-1.4" y1="-9.26" x2="0" y2="-9.26" stroke="#555" stroke-width="0.6"/>
<line x1="-1.4" y1="-11.68" x2="0" y2="-11.68" stroke="#555" stroke-width="0.6"/>
<line x1="-1.4" y1="-13.56" x2="0" y2="-13.56" stroke="#555" stroke-width="0.6"/>
<line x1="-1.4" y1="-15.10" x2="0" y2="-15.10" stroke="#555" stroke-width="0.6"/>
<line x1="-1.4" y1="-16.39" x2="0" y2="-16.39" stroke="#555" stroke-width="0.6"/>
<line x1="-1.4" y1="-17.52" x2="0" y2="-17.52" stroke="#555" stroke-width="0.6"/>
<line x1="-1.4" y1="-18.51" x2="0" y2="-18.51" stroke="#555" stroke-width="0.6"/>
<line x1="-2.4" y1="-19.40" x2="0" y2="-19.40" stroke="#555" stroke-width="0.6"/>
<line x1="-1.4" y1="-25.24" x2="0" y2="-25.24" stroke="#555" stroke-width="0.6"/>
<line x1="-1.4" y1="-28.66" x2="0" y2="-28.66" stroke="#555" stroke-width="0.6"/>
<line x1="-1.4" y1="-31.08" x2="0" y2="-31.08" stroke="#555" stroke-width="0.6"/>
<line x1="-1.4" y1="-32.96" x2="0" y2="-32.96" stroke="#555" stroke-width="0.6"/>
<line x1="-1.4" y1="-34.50" x2="0" y2="-34.50" stroke="#555" stroke-width="0.6"/>
<line x1="-1.4" y1="-35.79" x2="0" y2="-35.79" stroke="#555" stroke-width="0.6"/>
<line x1="-1.4" y1="-36.92" x2="0" y2="-36.92" stroke="#555" stroke-width="0.6"/>
<line x1="-1.4" y1="-37.91" x2="0" y2="-37.91" stroke="#555" stroke-width="0.6"/>
<line x1="-2.4" y1="-38.80" x2="0" y2="-38.80" stroke="#555" stroke-width="0.7"/>
<text x="-7.9" y="2.40" text-anchor="middle" font-size="6.9" fill="#222">0</text>
<text x="-7.9" y="-17.00" text-anchor="middle" font-size="6.9" fill="#222">1</text>
<text x="-7.9" y="-36.40" text-anchor="middle" font-size="6.9" fill="#222">2</text>
<text x="0.80" y="11.0" text-anchor="middle" font-size="6.9" fill="#222">0</text>
<text x="17.94" y="11.0" text-anchor="middle" font-size="6.9" fill="#222">2</text>
<text x="35.08" y="11.0" text-anchor="middle" font-size="6.9" fill="#222">4</text>
<text x="52.22" y="11.0" text-anchor="middle" font-size="6.9" fill="#222">6</text>
<text x="19.3" y="19.4" text-anchor="middle" font-size="7" textLength="8" lengthAdjust="spacingAndGlyphs" fill="#222">2N</text>
<text x="38.0" y="19.4" text-anchor="middle" font-size="7" textLength="8" lengthAdjust="spacingAndGlyphs" fill="#222">4N</text>
<line x1="0" y1="-8.2" x2="52.8" y2="-24.83" stroke="#333" stroke-width="0.85"/>
<g transform="translate(0,0)">
<polyline points="16.4,-13.4 16.4,-35.2 24,-35.2 21.9,-14.9" fill="none" stroke="#666" stroke-width="0.6"/>
<circle cx="16.4" cy="-35.2" r="0.6" fill="#444"/>
<text x="21.4" y="-35.4" font-size="3.9" font-weight="bold" fill="#444">R5</text>
</g>
<text x="42.1" y="-33.3" font-size="3.9" font-weight="bold" fill="#555">R2</text>
<text x="42" y="-17.4" font-size="3.9" font-weight="bold" fill="#555">R3</text>
</g>
<g transform="translate(224.2,206.3)">
<path d="M23.0,-15.4 L25.0,-24.5 L32.0,-26.0 L39.0,-28.0 L43.0,-25.0 L43.0,-21.7Z" fill="#a2d8a2" opacity="0.51" filter="url(#b3)"/>
<clipPath id="cp4"><path d="M23.0,-15.4 L25.0,-24.5 L32.0,-26.0 L39.0,-28.0 L43.0,-25.0 L43.0,-21.7Z"/></clipPath><g clip-path="url(#cp4)"><g filter="url(#b4)" stroke="#62b362" stroke-linecap="round"><line x1="34.5" y1="-22.4" x2="44.2" y2="-28.9" stroke-width="0.36" opacity="0.25"/><line x1="28.0" y1="-17.1" x2="38.0" y2="-22.8" stroke-width="0.67" opacity="0.15"/><line x1="26.8" y1="-19.7" x2="28.8" y2="-27.3" stroke-width="0.45" opacity="0.26"/><line x1="24.2" y1="-16.1" x2="34.3" y2="-27.3" stroke-width="0.60" opacity="0.17"/><line x1="29.3" y1="-18.5" x2="35.5" y2="-22.2" stroke-width="0.80" opacity="0.19"/><line x1="32.5" y1="-22.1" x2="43.8" y2="-28.9" stroke-width="0.66" opacity="0.23"/><line x1="25.8" y1="-16.8" x2="29.3" y2="-25.4" stroke-width="0.37" opacity="0.19"/><line x1="25.2" y1="-16.3" x2="41.5" y2="-25.0" stroke-width="0.78" opacity="0.17"/><line x1="26.6" y1="-20.8" x2="28.2" y2="-26.7" stroke-width="0.50" opacity="0.18"/><line x1="25.2" y1="-15.9" x2="24.6" y2="-22.4" stroke-width="0.57" opacity="0.17"/><line x1="25.3" y1="-16.0" x2="41.5" y2="-22.2" stroke-width="0.75" opacity="0.26"/><line x1="24.0" y1="-14.7" x2="26.5" y2="-25.4" stroke-width="0.38" opacity="0.25"/><line x1="28.7" y1="-18.9" x2="35.5" y2="-25.6" stroke-width="0.47" opacity="0.12"/><line x1="24.4" y1="-17.6" x2="23.2" y2="-26.6" stroke-width="0.63" opacity="0.22"/><line x1="30.1" y1="-20.2" x2="36.1" y2="-26.7" stroke-width="0.75" opacity="0.11"/><line x1="24.6" y1="-16.2" x2="37.7" y2="-26.5" stroke-width="0.46" opacity="0.27"/><line x1="25.6" y1="-16.9" x2="30.3" y2="-22.4" stroke-width="0.62" opacity="0.22"/><line x1="25.5" y1="-19.8" x2="30.5" y2="-28.6" stroke-width="0.40" opacity="0.25"/><line x1="26.1" y1="-16.7" x2="35.7" y2="-26.6" stroke-width="0.50" opacity="0.23"/><line x1="29.3" y1="-19.5" x2="35.1" y2="-25.5" stroke-width="0.35" opacity="0.24"/><line x1="25.7" y1="-17.8" x2="26.4" y2="-24.2" stroke-width="0.60" opacity="0.23"/><line x1="24.6" y1="-16.1" x2="31.1" y2="-27.3" stroke-width="0.59" opacity="0.18"/><line x1="25.7" y1="-19.3" x2="26.4" y2="-23.9" stroke-width="0.79" opacity="0.22"/></g></g>
<path d="M35.0,-19.3 L42.0,-23.3 L40.0,-26.7 L33.0,-22.7Z" fill="#52b052" opacity="0.35" filter="url(#b3)"/>
<path d="M23.9,-14.1 L24.7,-26.2 L21.3,-26.8 L18.5,-14.9Z" fill="#2a9a34" opacity="0.8" filter="url(#b3)"/>
<path d="M23.0,-15.7 L24.0,-23.3 L21.6,-23.7 L20.0,-16.3Z" fill="#2a9a34" opacity="0.7" filter="url(#b1)"/>
<path d="M19.8,-11.6 L21.9,-14.0 L24.1,-15.1 L26.2,-16.0 L28.4,-16.8 L30.5,-17.6 L32.6,-18.3 L34.8,-18.9 L36.9,-19.5 L39.1,-20.1 L41.2,-20.6 L43.4,-21.0 L45.5,-20.5 L45.5,-20.5 L43.4,-18.6 L41.2,-17.5 L39.1,-16.5 L36.9,-15.6 L34.8,-14.7 L32.6,-13.9 L30.5,-13.1 L28.4,-12.4 L26.2,-11.7 L24.1,-11.2 L21.9,-10.8 L19.8,-11.6Z" fill="#2e3448" opacity="0.9" filter="url(#b5)"/>
<path d="M24.0,-11.3 L42.0,-16.9 L42.0,-13.9 L24.0,-8.3Z" fill="#8a8aa0" opacity="0.35" filter="url(#b3)"/>
<path d="M19.1,-4.3 L22.0,-13.3 L19.0,-14.1 L16.9,-4.9Z" fill="#4a5060" opacity=".38" filter="url(#b2)"/>
<path d="M18.5,-4.5 L22.0,-13.3 L19.0,-14.1 L17.5,-4.7Z" fill="#121826" opacity="0.95" filter="url(#b4)"/>
<line x1="0" y1="-39.5" x2="0" y2="2.8" stroke="#4a4a4a" stroke-width="1.1"/>
<line x1="-4" y1="0" x2="52.5" y2="0" stroke="#4a4a4a" stroke-width="1.2"/>
<line x1="0.00" y1="0" x2="0.00" y2="1.6" stroke="#555" stroke-width="0.7"/>
<line x1="2.45" y1="0" x2="2.45" y2="1.6" stroke="#555" stroke-width="0.7"/>
<line x1="4.90" y1="0" x2="4.90" y2="1.6" stroke="#555" stroke-width="0.7"/>
<line x1="7.35" y1="0" x2="7.35" y2="1.6" stroke="#555" stroke-width="0.7"/>
<line x1="9.79" y1="0" x2="9.79" y2="1.6" stroke="#555" stroke-width="0.7"/>
<line x1="12.24" y1="0" x2="12.24" y2="1.6" stroke="#555" stroke-width="0.7"/>
<line x1="14.69" y1="0" x2="14.69" y2="1.6" stroke="#555" stroke-width="0.7"/>
<line x1="17.14" y1="0" x2="17.14" y2="1.6" stroke="#555" stroke-width="0.7"/>
<line x1="19.59" y1="0" x2="19.59" y2="1.6" stroke="#555" stroke-width="0.7"/>
<line x1="22.04" y1="0" x2="22.04" y2="1.6" stroke="#555" stroke-width="0.7"/>
<line x1="24.49" y1="0" x2="24.49" y2="1.6" stroke="#555" stroke-width="0.7"/>
<line x1="26.93" y1="0" x2="26.93" y2="1.6" stroke="#555" stroke-width="0.7"/>
<line x1="29.38" y1="0" x2="29.38" y2="1.6" stroke="#555" stroke-width="0.7"/>
<line x1="31.83" y1="0" x2="31.83" y2="1.6" stroke="#555" stroke-width="0.7"/>
<line x1="34.28" y1="0" x2="34.28" y2="1.6" stroke="#555" stroke-width="0.7"/>
<line x1="36.73" y1="0" x2="36.73" y2="1.6" stroke="#555" stroke-width="0.7"/>
<line x1="39.18" y1="0" x2="39.18" y2="1.6" stroke="#555" stroke-width="0.7"/>
<line x1="41.63" y1="0" x2="41.63" y2="1.6" stroke="#555" stroke-width="0.7"/>
<line x1="44.07" y1="0" x2="44.07" y2="1.6" stroke="#555" stroke-width="0.7"/>
<line x1="46.52" y1="0" x2="46.52" y2="1.6" stroke="#555" stroke-width="0.7"/>
<line x1="48.97" y1="0" x2="48.97" y2="1.6" stroke="#555" stroke-width="0.7"/>
<line x1="51.42" y1="0" x2="51.42" y2="1.6" stroke="#555" stroke-width="0.7"/>
<line x1="0.00" y1="0" x2="0.00" y2="3" stroke="#555" stroke-width="0.7"/>
<line x1="17.14" y1="0" x2="17.14" y2="3" stroke="#555" stroke-width="0.7"/>
<line x1="34.28" y1="0" x2="34.28" y2="3" stroke="#555" stroke-width="0.7"/>
<line x1="51.42" y1="0" x2="51.42" y2="3" stroke="#555" stroke-width="0.7"/>
<line x1="-2.4" y1="-0.00" x2="0" y2="-0.00" stroke="#555" stroke-width="0.6"/>
<line x1="-1.4" y1="-5.84" x2="0" y2="-5.84" stroke="#555" stroke-width="0.6"/>
<line x1="-1.4" y1="-9.26" x2="0" y2="-9.26" stroke="#555" stroke-width="0.6"/>
<line x1="-1.4" y1="-11.68" x2="0" y2="-11.68" stroke="#555" stroke-width="0.6"/>
<line x1="-1.4" y1="-13.56" x2="0" y2="-13.56" stroke="#555" stroke-width="0.6"/>
<line x1="-1.4" y1="-15.10" x2="0" y2="-15.10" stroke="#555" stroke-width="0.6"/>
<line x1="-1.4" y1="-16.39" x2="0" y2="-16.39" stroke="#555" stroke-width="0.6"/>
<line x1="-1.4" y1="-17.52" x2="0" y2="-17.52" stroke="#555" stroke-width="0.6"/>
<line x1="-1.4" y1="-18.51" x2="0" y2="-18.51" stroke="#555" stroke-width="0.6"/>
<line x1="-2.4" y1="-19.40" x2="0" y2="-19.40" stroke="#555" stroke-width="0.6"/>
<line x1="-1.4" y1="-25.24" x2="0" y2="-25.24" stroke="#555" stroke-width="0.6"/>
<line x1="-1.4" y1="-28.66" x2="0" y2="-28.66" stroke="#555" stroke-width="0.6"/>
<line x1="-1.4" y1="-31.08" x2="0" y2="-31.08" stroke="#555" stroke-width="0.6"/>
<line x1="-1.4" y1="-32.96" x2="0" y2="-32.96" stroke="#555" stroke-width="0.6"/>
<line x1="-1.4" y1="-34.50" x2="0" y2="-34.50" stroke="#555" stroke-width="0.6"/>
<line x1="-1.4" y1="-35.79" x2="0" y2="-35.79" stroke="#555" stroke-width="0.6"/>
<line x1="-1.4" y1="-36.92" x2="0" y2="-36.92" stroke="#555" stroke-width="0.6"/>
<line x1="-1.4" y1="-37.91" x2="0" y2="-37.91" stroke="#555" stroke-width="0.6"/>
<line x1="-2.4" y1="-38.80" x2="0" y2="-38.80" stroke="#555" stroke-width="0.7"/>
<text x="-7.9" y="2.40" text-anchor="middle" font-size="6.9" fill="#222">0</text>
<text x="-7.9" y="-17.00" text-anchor="middle" font-size="6.9" fill="#222">1</text>
<text x="-7.9" y="-36.40" text-anchor="middle" font-size="6.9" fill="#222">2</text>
<text x="0.80" y="11.0" text-anchor="middle" font-size="6.9" fill="#222">0</text>
<text x="17.94" y="11.0" text-anchor="middle" font-size="6.9" fill="#222">2</text>
<text x="35.08" y="11.0" text-anchor="middle" font-size="6.9" fill="#222">4</text>
<text x="52.22" y="11.0" text-anchor="middle" font-size="6.9" fill="#222">6</text>
<text x="19.3" y="19.4" text-anchor="middle" font-size="7" textLength="8" lengthAdjust="spacingAndGlyphs" fill="#222">2N</text>
<text x="38.0" y="19.4" text-anchor="middle" font-size="7" textLength="8" lengthAdjust="spacingAndGlyphs" fill="#222">4N</text>
<line x1="0" y1="-8.2" x2="52.8" y2="-24.83" stroke="#333" stroke-width="0.85"/>
<g transform="translate(0,0)">
<polyline points="16.4,-13.4 16.4,-35.2 24,-35.2 21.9,-14.9" fill="none" stroke="#666" stroke-width="0.6"/>
<circle cx="16.4" cy="-35.2" r="0.6" fill="#444"/>
<text x="21.4" y="-35.4" font-size="3.9" font-weight="bold" fill="#444">R5</text>
</g>
<text x="42.2" y="-31.6" font-size="3.9" font-weight="bold" fill="#555">R2</text>
<text x="42" y="-17.4" font-size="3.9" font-weight="bold" fill="#555">R3</text>
</g>
<g transform="translate(223.8,278.4)">
<path d="M20.0,-14.5 L22.0,-25.0 L26.0,-27.0 L36.0,-27.0 L42.0,-24.0 L42.0,-21.4Z" fill="#a2d8a2" opacity="0.637" filter="url(#b3)"/>
<clipPath id="cp5"><path d="M20.0,-14.5 L22.0,-25.0 L26.0,-27.0 L36.0,-27.0 L42.0,-24.0 L42.0,-21.4Z"/></clipPath><g clip-path="url(#cp5)"><g filter="url(#b4)" stroke="#62b362" stroke-linecap="round"><line x1="21.3" y1="-14.7" x2="43.0" y2="-27.0" stroke-width="0.40" opacity="0.25"/><line x1="21.3" y1="-14.9" x2="28.3" y2="-21.6" stroke-width="0.62" opacity="0.31"/><line x1="28.3" y1="-18.0" x2="36.4" y2="-21.3" stroke-width="0.62" opacity="0.19"/><line x1="22.6" y1="-16.8" x2="24.6" y2="-21.8" stroke-width="0.78" opacity="0.24"/><line x1="22.6" y1="-15.1" x2="36.8" y2="-23.6" stroke-width="0.70" opacity="0.31"/><line x1="23.5" y1="-15.3" x2="35.6" y2="-27.0" stroke-width="0.37" opacity="0.23"/><line x1="21.0" y1="-15.9" x2="20.8" y2="-21.3" stroke-width="0.65" opacity="0.30"/><line x1="23.1" y1="-18.0" x2="27.4" y2="-25.3" stroke-width="0.59" opacity="0.21"/><line x1="22.3" y1="-15.4" x2="36.2" y2="-24.2" stroke-width="0.54" opacity="0.21"/><line x1="22.1" y1="-15.0" x2="42.3" y2="-21.1" stroke-width="0.75" opacity="0.16"/><line x1="21.5" y1="-15.8" x2="33.1" y2="-25.5" stroke-width="0.37" opacity="0.23"/><line x1="20.3" y1="-14.4" x2="39.1" y2="-23.3" stroke-width="0.53" opacity="0.29"/><line x1="27.6" y1="-17.2" x2="42.1" y2="-24.7" stroke-width="0.61" opacity="0.32"/><line x1="24.7" y1="-16.0" x2="37.8" y2="-24.6" stroke-width="0.70" opacity="0.29"/><line x1="24.0" y1="-16.6" x2="34.6" y2="-21.2" stroke-width="0.50" opacity="0.16"/><line x1="28.1" y1="-20.0" x2="36.6" y2="-24.9" stroke-width="0.51" opacity="0.15"/><line x1="22.8" y1="-16.7" x2="25.2" y2="-26.2" stroke-width="0.39" opacity="0.22"/><line x1="23.2" y1="-18.6" x2="25.0" y2="-25.5" stroke-width="0.37" opacity="0.20"/><line x1="23.7" y1="-17.1" x2="40.4" y2="-27.8" stroke-width="0.69" opacity="0.27"/><line x1="20.3" y1="-15.3" x2="31.1" y2="-26.2" stroke-width="0.65" opacity="0.16"/><line x1="25.9" y1="-17.2" x2="41.3" y2="-23.3" stroke-width="0.37" opacity="0.22"/><line x1="19.9" y1="-18.3" x2="20.7" y2="-22.4" stroke-width="0.73" opacity="0.17"/><line x1="25.5" y1="-19.2" x2="32.8" y2="-27.0" stroke-width="0.35" opacity="0.20"/><line x1="25.8" y1="-17.3" x2="35.4" y2="-26.7" stroke-width="0.51" opacity="0.29"/><line x1="25.2" y1="-20.0" x2="32.3" y2="-26.6" stroke-width="0.58" opacity="0.26"/><line x1="28.4" y1="-17.4" x2="39.6" y2="-20.9" stroke-width="0.69" opacity="0.20"/><line x1="22.7" y1="-17.5" x2="35.7" y2="-26.6" stroke-width="0.46" opacity="0.23"/><line x1="27.8" y1="-17.7" x2="43.3" y2="-26.9" stroke-width="0.59" opacity="0.28"/></g></g>
<path d="M22.9,-13.9 L24.4,-22.0 L20.6,-23.0 L18.1,-15.1Z" fill="#3caa3c" opacity="0.85" filter="url(#b3)"/>
<path d="M22.9,-15.6 L24.4,-20.6 L21.6,-21.4 L20.1,-16.4Z" fill="#3caa3c" opacity="0.6" filter="url(#b1)"/>
<path d="M20.5,-12.3 L22.7,-14.4 L24.8,-15.5 L27.0,-16.4 L29.2,-17.2 L31.3,-17.9 L33.5,-18.7 L35.7,-19.3 L37.8,-19.9 L40.0,-20.5 L42.2,-21.0 L44.3,-21.4 L46.5,-21.1 L46.5,-21.1 L44.3,-19.4 L42.2,-18.3 L40.0,-17.4 L37.8,-16.4 L35.7,-15.6 L33.5,-14.8 L31.3,-14.0 L29.2,-13.3 L27.0,-12.6 L24.8,-12.0 L22.7,-11.6 L20.5,-12.3Z" fill="#1e2333" opacity="0.95" filter="url(#b5)"/>
<path d="M26.0,-12.4 L42.0,-17.4 L42.0,-14.4 L26.0,-9.4Z" fill="#7c7a94" opacity="0.55" filter="url(#b3)"/>
<g fill="#555570" filter="url(#b0)"><circle cx="35.0" cy="-12.2" r="0.48" opacity="0.37"/><circle cx="28.9" cy="-10.9" r="0.50" opacity="0.56"/><circle cx="32.8" cy="-14.0" r="0.67" opacity="0.56"/><circle cx="37.5" cy="-13.7" r="0.48" opacity="0.36"/><circle cx="26.0" cy="-11.7" r="0.40" opacity="0.31"/><circle cx="41.5" cy="-14.3" r="0.52" opacity="0.29"/><circle cx="29.8" cy="-11.9" r="0.65" opacity="0.28"/><circle cx="35.4" cy="-14.4" r="0.43" opacity="0.54"/><circle cx="29.5" cy="-13.1" r="0.63" opacity="0.43"/></g>
<path d="M19.4,-4.3 L22.7,-13.5 L19.3,-14.5 L17.2,-4.9Z" fill="#4a5060" opacity=".38" filter="url(#b2)"/>
<path d="M18.8,-4.4 L22.7,-13.5 L19.3,-14.5 L17.8,-4.8Z" fill="#121826" opacity="1" filter="url(#b4)"/>
<line x1="0" y1="-39.5" x2="0" y2="2.8" stroke="#4a4a4a" stroke-width="1.1"/>
<line x1="-4" y1="0" x2="52.5" y2="0" stroke="#4a4a4a" stroke-width="1.2"/>
<line x1="0.00" y1="0" x2="0.00" y2="1.6" stroke="#555" stroke-width="0.7"/>
<line x1="2.45" y1="0" x2="2.45" y2="1.6" stroke="#555" stroke-width="0.7"/>
<line x1="4.90" y1="0" x2="4.90" y2="1.6" stroke="#555" stroke-width="0.7"/>
<line x1="7.35" y1="0" x2="7.35" y2="1.6" stroke="#555" stroke-width="0.7"/>
<line x1="9.79" y1="0" x2="9.79" y2="1.6" stroke="#555" stroke-width="0.7"/>
<line x1="12.24" y1="0" x2="12.24" y2="1.6" stroke="#555" stroke-width="0.7"/>
<line x1="14.69" y1="0" x2="14.69" y2="1.6" stroke="#555" stroke-width="0.7"/>
<line x1="17.14" y1="0" x2="17.14" y2="1.6" stroke="#555" stroke-width="0.7"/>
<line x1="19.59" y1="0" x2="19.59" y2="1.6" stroke="#555" stroke-width="0.7"/>
<line x1="22.04" y1="0" x2="22.04" y2="1.6" stroke="#555" stroke-width="0.7"/>
<line x1="24.49" y1="0" x2="24.49" y2="1.6" stroke="#555" stroke-width="0.7"/>
<line x1="26.93" y1="0" x2="26.93" y2="1.6" stroke="#555" stroke-width="0.7"/>
<line x1="29.38" y1="0" x2="29.38" y2="1.6" stroke="#555" stroke-width="0.7"/>
<line x1="31.83" y1="0" x2="31.83" y2="1.6" stroke="#555" stroke-width="0.7"/>
<line x1="34.28" y1="0" x2="34.28" y2="1.6" stroke="#555" stroke-width="0.7"/>
<line x1="36.73" y1="0" x2="36.73" y2="1.6" stroke="#555" stroke-width="0.7"/>
<line x1="39.18" y1="0" x2="39.18" y2="1.6" stroke="#555" stroke-width="0.7"/>
<line x1="41.63" y1="0" x2="41.63" y2="1.6" stroke="#555" stroke-width="0.7"/>
<line x1="44.07" y1="0" x2="44.07" y2="1.6" stroke="#555" stroke-width="0.7"/>
<line x1="46.52" y1="0" x2="46.52" y2="1.6" stroke="#555" stroke-width="0.7"/>
<line x1="48.97" y1="0" x2="48.97" y2="1.6" stroke="#555" stroke-width="0.7"/>
<line x1="51.42" y1="0" x2="51.42" y2="1.6" stroke="#555" stroke-width="0.7"/>
<line x1="0.00" y1="0" x2="0.00" y2="3" stroke="#555" stroke-width="0.7"/>
<line x1="17.14" y1="0" x2="17.14" y2="3" stroke="#555" stroke-width="0.7"/>
<line x1="34.28" y1="0" x2="34.28" y2="3" stroke="#555" stroke-width="0.7"/>
<line x1="51.42" y1="0" x2="51.42" y2="3" stroke="#555" stroke-width="0.7"/>
<line x1="-2.4" y1="-0.00" x2="0" y2="-0.00" stroke="#555" stroke-width="0.6"/>
<line x1="-1.4" y1="-5.84" x2="0" y2="-5.84" stroke="#555" stroke-width="0.6"/>
<line x1="-1.4" y1="-9.26" x2="0" y2="-9.26" stroke="#555" stroke-width="0.6"/>
<line x1="-1.4" y1="-11.68" x2="0" y2="-11.68" stroke="#555" stroke-width="0.6"/>
<line x1="-1.4" y1="-13.56" x2="0" y2="-13.56" stroke="#555" stroke-width="0.6"/>
<line x1="-1.4" y1="-15.10" x2="0" y2="-15.10" stroke="#555" stroke-width="0.6"/>
<line x1="-1.4" y1="-16.39" x2="0" y2="-16.39" stroke="#555" stroke-width="0.6"/>
<line x1="-1.4" y1="-17.52" x2="0" y2="-17.52" stroke="#555" stroke-width="0.6"/>
<line x1="-1.4" y1="-18.51" x2="0" y2="-18.51" stroke="#555" stroke-width="0.6"/>
<line x1="-2.4" y1="-19.40" x2="0" y2="-19.40" stroke="#555" stroke-width="0.6"/>
<line x1="-1.4" y1="-25.24" x2="0" y2="-25.24" stroke="#555" stroke-width="0.6"/>
<line x1="-1.4" y1="-28.66" x2="0" y2="-28.66" stroke="#555" stroke-width="0.6"/>
<line x1="-1.4" y1="-31.08" x2="0" y2="-31.08" stroke="#555" stroke-width="0.6"/>
<line x1="-1.4" y1="-32.96" x2="0" y2="-32.96" stroke="#555" stroke-width="0.6"/>
<line x1="-1.4" y1="-34.50" x2="0" y2="-34.50" stroke="#555" stroke-width="0.6"/>
<line x1="-1.4" y1="-35.79" x2="0" y2="-35.79" stroke="#555" stroke-width="0.6"/>
<line x1="-1.4" y1="-36.92" x2="0" y2="-36.92" stroke="#555" stroke-width="0.6"/>
<line x1="-1.4" y1="-37.91" x2="0" y2="-37.91" stroke="#555" stroke-width="0.6"/>
<line x1="-2.4" y1="-38.80" x2="0" y2="-38.80" stroke="#555" stroke-width="0.7"/>
<text x="-7.9" y="2.40" text-anchor="middle" font-size="6.9" fill="#222">0</text>
<text x="-7.9" y="-17.00" text-anchor="middle" font-size="6.9" fill="#222">1</text>
<text x="-7.9" y="-36.40" text-anchor="middle" font-size="6.9" fill="#222">2</text>
<text x="0.80" y="11.0" text-anchor="middle" font-size="6.9" fill="#222">0</text>
<text x="17.94" y="11.0" text-anchor="middle" font-size="6.9" fill="#222">2</text>
<text x="35.08" y="11.0" text-anchor="middle" font-size="6.9" fill="#222">4</text>
<text x="52.22" y="11.0" text-anchor="middle" font-size="6.9" fill="#222">6</text>
<text x="19.3" y="19.4" text-anchor="middle" font-size="7" textLength="8" lengthAdjust="spacingAndGlyphs" fill="#222">2N</text>
<text x="38.0" y="19.4" text-anchor="middle" font-size="7" textLength="8" lengthAdjust="spacingAndGlyphs" fill="#222">4N</text>
<line x1="0" y1="-8.2" x2="52.8" y2="-24.83" stroke="#333" stroke-width="0.85"/>
<g transform="translate(0,0)">
<polyline points="16.4,-13.4 16.4,-35.2 24,-35.2 21.9,-14.9" fill="none" stroke="#666" stroke-width="0.6"/>
<circle cx="16.4" cy="-35.2" r="0.6" fill="#444"/>
<text x="21.4" y="-35.4" font-size="3.9" font-weight="bold" fill="#444">R5</text>
</g>
<text x="42" y="-34.2" font-size="3.9" font-weight="bold" fill="#555">R2</text>
<text x="42" y="-17.4" font-size="3.9" font-weight="bold" fill="#555">R3</text>
</g>
<g transform="translate(223.5,351.1)">
<path d="M12.9,-5.2 L16.7,-7.7 L15.3,-10.3 L11.1,-8.8Z" fill="#9a9aa8" opacity="0.3" filter="url(#b2)"/>
<g fill="#555570" filter="url(#b0)"><circle cx="12.6" cy="-7.8" r="0.42" opacity="0.20"/><circle cx="12.8" cy="-6.5" r="0.40" opacity="0.26"/><circle cx="15.2" cy="-9.3" r="0.71" opacity="0.27"/><circle cx="11.5" cy="-8.2" r="0.65" opacity="0.31"/><circle cx="12.1" cy="-9.0" r="0.68" opacity="0.32"/><circle cx="15.3" cy="-8.7" r="0.53" opacity="0.31"/></g>
<path d="M19.5,-14.3 L21.5,-24.5 L28.0,-27.0 L41.0,-27.0 L44.5,-25.0 L44.5,-22.2Z" fill="#a2d8a2" opacity="0.722" filter="url(#b3)"/>
<clipPath id="cp6"><path d="M19.5,-14.3 L21.5,-24.5 L28.0,-27.0 L41.0,-27.0 L44.5,-25.0 L44.5,-22.2Z"/></clipPath><g clip-path="url(#cp6)"><g filter="url(#b4)" stroke="#62b362" stroke-linecap="round"><line x1="20.1" y1="-14.9" x2="19.8" y2="-27.2" stroke-width="0.40" opacity="0.17"/><line x1="22.7" y1="-14.9" x2="40.0" y2="-26.9" stroke-width="0.59" opacity="0.21"/><line x1="24.4" y1="-17.8" x2="30.6" y2="-20.7" stroke-width="0.53" opacity="0.17"/><line x1="23.0" y1="-16.1" x2="28.4" y2="-25.3" stroke-width="0.61" opacity="0.23"/><line x1="30.5" y1="-17.8" x2="45.3" y2="-21.9" stroke-width="0.80" opacity="0.13"/><line x1="28.4" y1="-17.6" x2="39.3" y2="-21.6" stroke-width="0.68" opacity="0.17"/><line x1="21.7" y1="-16.6" x2="36.8" y2="-26.4" stroke-width="0.53" opacity="0.25"/><line x1="30.2" y1="-16.4" x2="42.1" y2="-21.0" stroke-width="0.49" opacity="0.16"/><line x1="22.7" y1="-16.0" x2="36.3" y2="-24.0" stroke-width="0.76" opacity="0.24"/><line x1="26.0" y1="-18.0" x2="38.3" y2="-27.3" stroke-width="0.80" opacity="0.17"/><line x1="23.5" y1="-16.1" x2="31.8" y2="-22.1" stroke-width="0.40" opacity="0.15"/><line x1="28.8" y1="-19.1" x2="46.0" y2="-27.1" stroke-width="0.73" opacity="0.22"/><line x1="23.7" y1="-16.9" x2="32.9" y2="-22.2" stroke-width="0.64" opacity="0.14"/><line x1="21.9" y1="-20.3" x2="22.5" y2="-27.0" stroke-width="0.70" opacity="0.18"/><line x1="23.7" y1="-16.3" x2="40.2" y2="-20.8" stroke-width="0.48" opacity="0.16"/><line x1="21.6" y1="-18.9" x2="20.7" y2="-27.1" stroke-width="0.44" opacity="0.17"/><line x1="27.0" y1="-18.4" x2="41.7" y2="-25.8" stroke-width="0.59" opacity="0.29"/><line x1="24.6" y1="-17.9" x2="30.3" y2="-24.2" stroke-width="0.56" opacity="0.15"/><line x1="21.9" y1="-16.5" x2="22.8" y2="-22.3" stroke-width="0.61" opacity="0.16"/><line x1="24.5" y1="-17.4" x2="42.5" y2="-27.1" stroke-width="0.49" opacity="0.21"/><line x1="26.5" y1="-17.6" x2="38.7" y2="-24.0" stroke-width="0.72" opacity="0.13"/><line x1="26.3" y1="-17.6" x2="36.1" y2="-21.4" stroke-width="0.51" opacity="0.21"/><line x1="23.1" y1="-16.7" x2="41.6" y2="-25.2" stroke-width="0.66" opacity="0.20"/><line x1="24.5" y1="-17.3" x2="40.3" y2="-27.5" stroke-width="0.57" opacity="0.31"/><line x1="19.9" y1="-16.2" x2="27.0" y2="-26.7" stroke-width="0.56" opacity="0.13"/><line x1="20.6" y1="-19.5" x2="19.5" y2="-25.2" stroke-width="0.61" opacity="0.21"/><line x1="26.2" y1="-17.1" x2="40.5" y2="-26.3" stroke-width="0.49" opacity="0.15"/><line x1="27.1" y1="-20.1" x2="35.0" y2="-26.6" stroke-width="0.65" opacity="0.23"/><line x1="26.3" y1="-17.2" x2="42.7" y2="-25.7" stroke-width="0.45" opacity="0.21"/><line x1="31.1" y1="-20.5" x2="41.7" y2="-26.2" stroke-width="0.66" opacity="0.19"/><line x1="25.5" y1="-16.6" x2="46.0" y2="-22.2" stroke-width="0.80" opacity="0.16"/></g></g>
<path d="M22.8,-14.6 L36.8,-19.6 L35.2,-24.4 L21.2,-19.4Z" fill="#52b052" opacity="0.55" filter="url(#b3)"/>
<path d="M29.0,-16.1 L44.0,-20.9 L44.0,-17.9 L29.0,-12.1Z" fill="#4a4a66" opacity="0.55" filter="url(#b3)"/>
<g fill="#555570" filter="url(#b0)"><circle cx="38.6" cy="-18.7" r="0.57" opacity="0.59"/><circle cx="31.3" cy="-13.7" r="0.76" opacity="0.36"/><circle cx="33.9" cy="-15.6" r="0.62" opacity="0.47"/><circle cx="42.7" cy="-18.5" r="0.65" opacity="0.41"/><circle cx="37.7" cy="-17.3" r="0.63" opacity="0.49"/><circle cx="30.9" cy="-15.9" r="0.58" opacity="0.28"/><circle cx="34.5" cy="-16.4" r="0.39" opacity="0.25"/><circle cx="37.8" cy="-17.3" r="0.76" opacity="0.55"/><circle cx="32.4" cy="-14.5" r="0.42" opacity="0.29"/><circle cx="43.5" cy="-20.2" r="0.48" opacity="0.58"/></g>
<path d="M34.3,-16.3 L38.3,-17.7 L37.7,-19.5 L33.7,-18.1Z" fill="#2a2e40" opacity="0.7" filter="url(#b1)"/>
<path d="M39.8,-18.7 L42.8,-19.7 L42.2,-21.5 L39.2,-20.5Z" fill="#2a2e40" opacity="0.7" filter="url(#b1)"/>
<path d="M22.0,-14.9 L29.0,-17.1 L29.0,-15.6 L22.0,-12.4Z" fill="#121826" opacity="0.85" filter="url(#b1)"/>
<path d="M19.4,-4.1 L24.1,-13.8 L19.9,-15.2 L17.6,-4.7Z" fill="#4a5060" opacity=".38" filter="url(#b2)"/>
<path d="M19.0,-4.2 L24.1,-13.8 L19.9,-15.2 L18.0,-4.6Z" fill="#121826" opacity="1" filter="url(#b4)"/>
<line x1="0" y1="-39.5" x2="0" y2="2.8" stroke="#4a4a4a" stroke-width="1.1"/>
<line x1="-4" y1="0" x2="52.5" y2="0" stroke="#4a4a4a" stroke-width="1.2"/>
<line x1="0.00" y1="0" x2="0.00" y2="1.6" stroke="#555" stroke-width="0.7"/>
<line x1="2.45" y1="0" x2="2.45" y2="1.6" stroke="#555" stroke-width="0.7"/>
<line x1="4.90" y1="0" x2="4.90" y2="1.6" stroke="#555" stroke-width="0.7"/>
<line x1="7.35" y1="0" x2="7.35" y2="1.6" stroke="#555" stroke-width="0.7"/>
<line x1="9.79" y1="0" x2="9.79" y2="1.6" stroke="#555" stroke-width="0.7"/>
<line x1="12.24" y1="0" x2="12.24" y2="1.6" stroke="#555" stroke-width="0.7"/>
<line x1="14.69" y1="0" x2="14.69" y2="1.6" stroke="#555" stroke-width="0.7"/>
<line x1="17.14" y1="0" x2="17.14" y2="1.6" stroke="#555" stroke-width="0.7"/>
<line x1="19.59" y1="0" x2="19.59" y2="1.6" stroke="#555" stroke-width="0.7"/>
<line x1="22.04" y1="0" x2="22.04" y2="1.6" stroke="#555" stroke-width="0.7"/>
<line x1="24.49" y1="0" x2="24.49" y2="1.6" stroke="#555" stroke-width="0.7"/>
<line x1="26.93" y1="0" x2="26.93" y2="1.6" stroke="#555" stroke-width="0.7"/>
<line x1="29.38" y1="0" x2="29.38" y2="1.6" stroke="#555" stroke-width="0.7"/>
<line x1="31.83" y1="0" x2="31.83" y2="1.6" stroke="#555" stroke-width="0.7"/>
<line x1="34.28" y1="0" x2="34.28" y2="1.6" stroke="#555" stroke-width="0.7"/>
<line x1="36.73" y1="0" x2="36.73" y2="1.6" stroke="#555" stroke-width="0.7"/>
<line x1="39.18" y1="0" x2="39.18" y2="1.6" stroke="#555" stroke-width="0.7"/>
<line x1="41.63" y1="0" x2="41.63" y2="1.6" stroke="#555" stroke-width="0.7"/>
<line x1="44.07" y1="0" x2="44.07" y2="1.6" stroke="#555" stroke-width="0.7"/>
<line x1="46.52" y1="0" x2="46.52" y2="1.6" stroke="#555" stroke-width="0.7"/>
<line x1="48.97" y1="0" x2="48.97" y2="1.6" stroke="#555" stroke-width="0.7"/>
<line x1="51.42" y1="0" x2="51.42" y2="1.6" stroke="#555" stroke-width="0.7"/>
<line x1="0.00" y1="0" x2="0.00" y2="3" stroke="#555" stroke-width="0.7"/>
<line x1="17.14" y1="0" x2="17.14" y2="3" stroke="#555" stroke-width="0.7"/>
<line x1="34.28" y1="0" x2="34.28" y2="3" stroke="#555" stroke-width="0.7"/>
<line x1="51.42" y1="0" x2="51.42" y2="3" stroke="#555" stroke-width="0.7"/>
<line x1="-2.4" y1="-0.00" x2="0" y2="-0.00" stroke="#555" stroke-width="0.6"/>
<line x1="-1.4" y1="-5.84" x2="0" y2="-5.84" stroke="#555" stroke-width="0.6"/>
<line x1="-1.4" y1="-9.26" x2="0" y2="-9.26" stroke="#555" stroke-width="0.6"/>
<line x1="-1.4" y1="-11.68" x2="0" y2="-11.68" stroke="#555" stroke-width="0.6"/>
<line x1="-1.4" y1="-13.56" x2="0" y2="-13.56" stroke="#555" stroke-width="0.6"/>
<line x1="-1.4" y1="-15.10" x2="0" y2="-15.10" stroke="#555" stroke-width="0.6"/>
<line x1="-1.4" y1="-16.39" x2="0" y2="-16.39" stroke="#555" stroke-width="0.6"/>
<line x1="-1.4" y1="-17.52" x2="0" y2="-17.52" stroke="#555" stroke-width="0.6"/>
<line x1="-1.4" y1="-18.51" x2="0" y2="-18.51" stroke="#555" stroke-width="0.6"/>
<line x1="-2.4" y1="-19.40" x2="0" y2="-19.40" stroke="#555" stroke-width="0.6"/>
<line x1="-1.4" y1="-25.24" x2="0" y2="-25.24" stroke="#555" stroke-width="0.6"/>
<line x1="-1.4" y1="-28.66" x2="0" y2="-28.66" stroke="#555" stroke-width="0.6"/>
<line x1="-1.4" y1="-31.08" x2="0" y2="-31.08" stroke="#555" stroke-width="0.6"/>
<line x1="-1.4" y1="-32.96" x2="0" y2="-32.96" stroke="#555" stroke-width="0.6"/>
<line x1="-1.4" y1="-34.50" x2="0" y2="-34.50" stroke="#555" stroke-width="0.6"/>
<line x1="-1.4" y1="-35.79" x2="0" y2="-35.79" stroke="#555" stroke-width="0.6"/>
<line x1="-1.4" y1="-36.92" x2="0" y2="-36.92" stroke="#555" stroke-width="0.6"/>
<line x1="-1.4" y1="-37.91" x2="0" y2="-37.91" stroke="#555" stroke-width="0.6"/>
<line x1="-2.4" y1="-38.80" x2="0" y2="-38.80" stroke="#555" stroke-width="0.7"/>
<text x="-7.9" y="2.40" text-anchor="middle" font-size="6.9" fill="#222">0</text>
<text x="-7.9" y="-17.00" text-anchor="middle" font-size="6.9" fill="#222">1</text>
<text x="-7.9" y="-36.40" text-anchor="middle" font-size="6.9" fill="#222">2</text>
<text x="0.80" y="11.0" text-anchor="middle" font-size="6.9" fill="#222">0</text>
<text x="17.94" y="11.0" text-anchor="middle" font-size="6.9" fill="#222">2</text>
<text x="35.08" y="11.0" text-anchor="middle" font-size="6.9" fill="#222">4</text>
<text x="52.22" y="11.0" text-anchor="middle" font-size="6.9" fill="#222">6</text>
<text x="19.3" y="19.4" text-anchor="middle" font-size="7" textLength="8" lengthAdjust="spacingAndGlyphs" fill="#222">2N</text>
<text x="38.0" y="19.4" text-anchor="middle" font-size="7" textLength="8" lengthAdjust="spacingAndGlyphs" fill="#222">4N</text>
<line x1="0" y1="-8.2" x2="52.8" y2="-24.83" stroke="#333" stroke-width="0.85"/>
<g transform="translate(1.0,0)">
<polyline points="16.4,-13.4 16.4,-35.2 24,-35.2 21.9,-14.9" fill="none" stroke="#666" stroke-width="0.6"/>
<circle cx="16.4" cy="-35.2" r="0.6" fill="#444"/>
<text x="21.4" y="-35.4" font-size="3.9" font-weight="bold" fill="#444">R5</text>
</g>
<text x="41.3" y="-33.4" font-size="3.9" font-weight="bold" fill="#555">R2</text>
<text x="42" y="-17.4" font-size="3.9" font-weight="bold" fill="#555">R3</text>
</g>
<g transform="translate(385.8,67.6)">
<path d="M13.2,-4.7 L16.6,-6.9 L15.4,-9.1 L11.8,-7.3Z" fill="#9a9aa8" opacity="0.25" filter="url(#b2)"/>
<g fill="#555570" filter="url(#b0)"><circle cx="15.8" cy="-8.2" r="0.75" opacity="0.19"/><circle cx="13.7" cy="-6.4" r="0.45" opacity="0.14"/><circle cx="13.8" cy="-8.1" r="0.64" opacity="0.18"/><circle cx="13.6" cy="-7.9" r="0.47" opacity="0.23"/><circle cx="16.1" cy="-7.5" r="0.69" opacity="0.16"/><circle cx="15.5" cy="-8.0" r="0.60" opacity="0.18"/></g>
<path d="M21.5,-15.0 L22.5,-27.0 L30.0,-32.5 L37.0,-35.3 L42.4,-33.8 L42.4,-21.6Z" fill="#a2d8a2" opacity="0.51" filter="url(#b3)"/>
<clipPath id="cp7"><path d="M21.5,-15.0 L22.5,-27.0 L30.0,-32.5 L37.0,-35.3 L42.4,-33.8 L42.4,-21.6Z"/></clipPath><g clip-path="url(#cp7)"><g filter="url(#b4)" stroke="#62b362" stroke-linecap="round"><line x1="24.3" y1="-19.6" x2="27.9" y2="-30.7" stroke-width="0.57" opacity="0.19"/><line x1="21.6" y1="-14.7" x2="26.1" y2="-35.1" stroke-width="0.51" opacity="0.18"/><line x1="26.8" y1="-19.0" x2="34.2" y2="-31.5" stroke-width="0.44" opacity="0.25"/><line x1="32.0" y1="-22.2" x2="41.1" y2="-31.1" stroke-width="0.45" opacity="0.14"/><line x1="28.6" y1="-22.5" x2="39.9" y2="-33.3" stroke-width="0.46" opacity="0.14"/><line x1="29.4" y1="-25.3" x2="35.5" y2="-35.4" stroke-width="0.41" opacity="0.13"/><line x1="23.6" y1="-16.2" x2="32.1" y2="-27.8" stroke-width="0.74" opacity="0.14"/><line x1="25.2" y1="-20.0" x2="30.9" y2="-27.3" stroke-width="0.39" opacity="0.18"/><line x1="24.4" y1="-20.9" x2="29.4" y2="-30.8" stroke-width="0.60" opacity="0.16"/><line x1="25.2" y1="-21.9" x2="30.3" y2="-33.4" stroke-width="0.39" opacity="0.26"/><line x1="24.8" y1="-17.4" x2="42.0" y2="-30.3" stroke-width="0.37" opacity="0.13"/><line x1="26.3" y1="-18.5" x2="38.0" y2="-34.1" stroke-width="0.66" opacity="0.21"/><line x1="29.3" y1="-22.6" x2="35.7" y2="-29.7" stroke-width="0.44" opacity="0.13"/><line x1="24.6" y1="-14.9" x2="27.0" y2="-27.2" stroke-width="0.52" opacity="0.23"/><line x1="23.0" y1="-17.9" x2="24.0" y2="-31.7" stroke-width="0.56" opacity="0.13"/><line x1="25.0" y1="-17.9" x2="42.0" y2="-31.0" stroke-width="0.64" opacity="0.12"/><line x1="25.7" y1="-23.1" x2="29.9" y2="-35.5" stroke-width="0.63" opacity="0.19"/><line x1="25.6" y1="-19.2" x2="35.8" y2="-32.7" stroke-width="0.54" opacity="0.11"/><line x1="23.1" y1="-21.2" x2="26.1" y2="-29.9" stroke-width="0.57" opacity="0.24"/><line x1="23.9" y1="-19.7" x2="29.0" y2="-36.3" stroke-width="0.51" opacity="0.25"/><line x1="25.5" y1="-18.9" x2="29.9" y2="-25.9" stroke-width="0.64" opacity="0.21"/><line x1="28.8" y1="-21.5" x2="37.2" y2="-31.9" stroke-width="0.69" opacity="0.21"/><line x1="24.0" y1="-19.6" x2="33.7" y2="-33.8" stroke-width="0.52" opacity="0.19"/><line x1="25.9" y1="-16.9" x2="41.2" y2="-26.7" stroke-width="0.74" opacity="0.24"/><line x1="22.4" y1="-19.1" x2="26.3" y2="-27.6" stroke-width="0.53" opacity="0.25"/><line x1="23.8" y1="-22.5" x2="26.4" y2="-34.6" stroke-width="0.66" opacity="0.13"/><line x1="24.4" y1="-17.3" x2="25.5" y2="-35.6" stroke-width="0.48" opacity="0.18"/><line x1="23.8" y1="-21.6" x2="25.1" y2="-28.4" stroke-width="0.60" opacity="0.22"/><line x1="26.5" y1="-23.4" x2="28.9" y2="-31.7" stroke-width="0.48" opacity="0.11"/><line x1="23.0" y1="-15.2" x2="30.6" y2="-27.0" stroke-width="0.59" opacity="0.27"/><line x1="23.7" y1="-17.4" x2="40.4" y2="-26.9" stroke-width="0.69" opacity="0.20"/><line x1="23.8" y1="-21.1" x2="28.6" y2="-35.6" stroke-width="0.77" opacity="0.21"/><line x1="24.0" y1="-18.7" x2="37.5" y2="-36.3" stroke-width="0.70" opacity="0.20"/><line x1="22.2" y1="-15.3" x2="38.5" y2="-26.3" stroke-width="0.61" opacity="0.21"/><line x1="22.0" y1="-14.4" x2="43.9" y2="-32.7" stroke-width="0.47" opacity="0.21"/><line x1="23.7" y1="-15.8" x2="43.5" y2="-33.5" stroke-width="0.37" opacity="0.15"/><line x1="29.5" y1="-21.2" x2="38.6" y2="-30.7" stroke-width="0.62" opacity="0.27"/><line x1="22.3" y1="-15.8" x2="38.7" y2="-29.5" stroke-width="0.40" opacity="0.21"/><line x1="30.4" y1="-20.8" x2="43.6" y2="-30.2" stroke-width="0.79" opacity="0.26"/><line x1="21.5" y1="-14.3" x2="24.1" y2="-32.0" stroke-width="0.45" opacity="0.19"/><line x1="24.6" y1="-20.0" x2="29.1" y2="-26.4" stroke-width="0.52" opacity="0.17"/><line x1="27.7" y1="-18.0" x2="40.0" y2="-26.1" stroke-width="0.50" opacity="0.17"/><line x1="24.7" y1="-18.7" x2="26.2" y2="-28.3" stroke-width="0.49" opacity="0.27"/><line x1="21.5" y1="-20.7" x2="22.0" y2="-29.0" stroke-width="0.75" opacity="0.20"/><line x1="24.0" y1="-16.9" x2="43.6" y2="-31.1" stroke-width="0.57" opacity="0.24"/><line x1="28.2" y1="-20.0" x2="39.6" y2="-31.9" stroke-width="0.47" opacity="0.14"/><line x1="24.1" y1="-19.3" x2="29.8" y2="-28.1" stroke-width="0.57" opacity="0.21"/></g></g>
<path d="M23.2,-14.9 L24.5,-30.9 L23.1,-31.1 L20.8,-15.1Z" fill="#52b052" opacity="0.6" filter="url(#b3)"/>
<path d="M26.2,-17.7 L39.5,-29.3 L36.5,-32.7 L23.8,-20.3Z" fill="#52b052" opacity="0.35" filter="url(#b3)"/>
<path d="M26.0,-14.9 L42.0,-19.9 L42.0,-15.9 L26.0,-10.9Z" fill="#7c7a94" opacity="0.55" filter="url(#b3)"/>
<g fill="#555570" filter="url(#b0)"><circle cx="34.4" cy="-14.8" r="0.52" opacity="0.54"/><circle cx="26.5" cy="-11.1" r="0.55" opacity="0.30"/><circle cx="32.2" cy="-16.1" r="0.39" opacity="0.50"/><circle cx="36.2" cy="-14.6" r="0.63" opacity="0.57"/><circle cx="33.7" cy="-15.0" r="0.75" opacity="0.56"/><circle cx="31.3" cy="-16.2" r="0.49" opacity="0.35"/><circle cx="40.4" cy="-17.4" r="0.58" opacity="0.38"/><circle cx="41.6" cy="-16.5" r="0.43" opacity="0.40"/><circle cx="31.4" cy="-14.3" r="0.49" opacity="0.60"/><circle cx="33.4" cy="-13.6" r="0.60" opacity="0.49"/><circle cx="41.4" cy="-16.6" r="0.51" opacity="0.34"/><circle cx="31.3" cy="-15.3" r="0.77" opacity="0.33"/></g>
<path d="M35.7,-14.2 L38.7,-15.2 L38.3,-16.4 L35.3,-15.4Z" fill="#4a5060" opacity=".38" filter="url(#b2)"/>
<path d="M35.6,-14.5 L38.7,-15.2 L38.3,-16.4 L35.4,-15.1Z" fill="#121826" opacity="0.75" filter="url(#b4)"/>
<path d="M18.3,-3.5 L23.6,-13.8 L20.4,-15.2 L16.1,-4.5Z" fill="#4a5060" opacity=".38" filter="url(#b2)"/>
<path d="M17.7,-3.8 L23.6,-13.8 L20.4,-15.2 L16.7,-4.2Z" fill="#121826" opacity="1" filter="url(#b4)"/>
<line x1="0" y1="-39.5" x2="0" y2="2.8" stroke="#4a4a4a" stroke-width="1.1"/>
<line x1="-4" y1="0" x2="52.5" y2="0" stroke="#4a4a4a" stroke-width="1.2"/>
<line x1="0.00" y1="0" x2="0.00" y2="1.6" stroke="#555" stroke-width="0.7"/>
<line x1="2.45" y1="0" x2="2.45" y2="1.6" stroke="#555" stroke-width="0.7"/>
<line x1="4.90" y1="0" x2="4.90" y2="1.6" stroke="#555" stroke-width="0.7"/>
<line x1="7.35" y1="0" x2="7.35" y2="1.6" stroke="#555" stroke-width="0.7"/>
<line x1="9.79" y1="0" x2="9.79" y2="1.6" stroke="#555" stroke-width="0.7"/>
<line x1="12.24" y1="0" x2="12.24" y2="1.6" stroke="#555" stroke-width="0.7"/>
<line x1="14.69" y1="0" x2="14.69" y2="1.6" stroke="#555" stroke-width="0.7"/>
<line x1="17.14" y1="0" x2="17.14" y2="1.6" stroke="#555" stroke-width="0.7"/>
<line x1="19.59" y1="0" x2="19.59" y2="1.6" stroke="#555" stroke-width="0.7"/>
<line x1="22.04" y1="0" x2="22.04" y2="1.6" stroke="#555" stroke-width="0.7"/>
<line x1="24.49" y1="0" x2="24.49" y2="1.6" stroke="#555" stroke-width="0.7"/>
<line x1="26.93" y1="0" x2="26.93" y2="1.6" stroke="#555" stroke-width="0.7"/>
<line x1="29.38" y1="0" x2="29.38" y2="1.6" stroke="#555" stroke-width="0.7"/>
<line x1="31.83" y1="0" x2="31.83" y2="1.6" stroke="#555" stroke-width="0.7"/>
<line x1="34.28" y1="0" x2="34.28" y2="1.6" stroke="#555" stroke-width="0.7"/>
<line x1="36.73" y1="0" x2="36.73" y2="1.6" stroke="#555" stroke-width="0.7"/>
<line x1="39.18" y1="0" x2="39.18" y2="1.6" stroke="#555" stroke-width="0.7"/>
<line x1="41.63" y1="0" x2="41.63" y2="1.6" stroke="#555" stroke-width="0.7"/>
<line x1="44.07" y1="0" x2="44.07" y2="1.6" stroke="#555" stroke-width="0.7"/>
<line x1="46.52" y1="0" x2="46.52" y2="1.6" stroke="#555" stroke-width="0.7"/>
<line x1="48.97" y1="0" x2="48.97" y2="1.6" stroke="#555" stroke-width="0.7"/>
<line x1="51.42" y1="0" x2="51.42" y2="1.6" stroke="#555" stroke-width="0.7"/>
<line x1="0.00" y1="0" x2="0.00" y2="3" stroke="#555" stroke-width="0.7"/>
<line x1="17.14" y1="0" x2="17.14" y2="3" stroke="#555" stroke-width="0.7"/>
<line x1="34.28" y1="0" x2="34.28" y2="3" stroke="#555" stroke-width="0.7"/>
<line x1="51.42" y1="0" x2="51.42" y2="3" stroke="#555" stroke-width="0.7"/>
<line x1="-2.4" y1="-0.00" x2="0" y2="-0.00" stroke="#555" stroke-width="0.6"/>
<line x1="-1.4" y1="-5.84" x2="0" y2="-5.84" stroke="#555" stroke-width="0.6"/>
<line x1="-1.4" y1="-9.26" x2="0" y2="-9.26" stroke="#555" stroke-width="0.6"/>
<line x1="-1.4" y1="-11.68" x2="0" y2="-11.68" stroke="#555" stroke-width="0.6"/>
<line x1="-1.4" y1="-13.56" x2="0" y2="-13.56" stroke="#555" stroke-width="0.6"/>
<line x1="-1.4" y1="-15.10" x2="0" y2="-15.10" stroke="#555" stroke-width="0.6"/>
<line x1="-1.4" y1="-16.39" x2="0" y2="-16.39" stroke="#555" stroke-width="0.6"/>
<line x1="-1.4" y1="-17.52" x2="0" y2="-17.52" stroke="#555" stroke-width="0.6"/>
<line x1="-1.4" y1="-18.51" x2="0" y2="-18.51" stroke="#555" stroke-width="0.6"/>
<line x1="-2.4" y1="-19.40" x2="0" y2="-19.40" stroke="#555" stroke-width="0.6"/>
<line x1="-1.4" y1="-25.24" x2="0" y2="-25.24" stroke="#555" stroke-width="0.6"/>
<line x1="-1.4" y1="-28.66" x2="0" y2="-28.66" stroke="#555" stroke-width="0.6"/>
<line x1="-1.4" y1="-31.08" x2="0" y2="-31.08" stroke="#555" stroke-width="0.6"/>
<line x1="-1.4" y1="-32.96" x2="0" y2="-32.96" stroke="#555" stroke-width="0.6"/>
<line x1="-1.4" y1="-34.50" x2="0" y2="-34.50" stroke="#555" stroke-width="0.6"/>
<line x1="-1.4" y1="-35.79" x2="0" y2="-35.79" stroke="#555" stroke-width="0.6"/>
<line x1="-1.4" y1="-36.92" x2="0" y2="-36.92" stroke="#555" stroke-width="0.6"/>
<line x1="-1.4" y1="-37.91" x2="0" y2="-37.91" stroke="#555" stroke-width="0.6"/>
<line x1="-2.4" y1="-38.80" x2="0" y2="-38.80" stroke="#555" stroke-width="0.7"/>
<text x="-7.9" y="2.40" text-anchor="middle" font-size="6.9" fill="#222">0</text>
<text x="-7.9" y="-17.00" text-anchor="middle" font-size="6.9" fill="#222">1</text>
<text x="-7.9" y="-36.40" text-anchor="middle" font-size="6.9" fill="#222">2</text>
<text x="0.80" y="11.0" text-anchor="middle" font-size="6.9" fill="#222">0</text>
<text x="17.94" y="11.0" text-anchor="middle" font-size="6.9" fill="#222">2</text>
<text x="35.08" y="11.0" text-anchor="middle" font-size="6.9" fill="#222">4</text>
<text x="52.22" y="11.0" text-anchor="middle" font-size="6.9" fill="#222">6</text>
<text x="19.3" y="19.4" text-anchor="middle" font-size="7" textLength="8" lengthAdjust="spacingAndGlyphs" fill="#222">2N</text>
<text x="38.0" y="19.4" text-anchor="middle" font-size="7" textLength="8" lengthAdjust="spacingAndGlyphs" fill="#222">4N</text>
<line x1="0" y1="-8.2" x2="52.8" y2="-24.83" stroke="#333" stroke-width="0.85"/>
<g transform="translate(0,0)">
<polyline points="16.4,-13.4 16.4,-35.2 24,-35.2 21.9,-14.9" fill="none" stroke="#666" stroke-width="0.6"/>
<circle cx="16.4" cy="-35.2" r="0.6" fill="#444"/>
<text x="21.4" y="-35.4" font-size="3.9" font-weight="bold" fill="#444">R5</text>
</g>
<text x="41" y="-34.5" font-size="3.9" font-weight="bold" fill="#555">R2</text>
<text x="42" y="-17.4" font-size="3.9" font-weight="bold" fill="#555">R3</text>
</g>
<g transform="translate(385.8,138.4)">
<path d="M12.6,-4.3 L16.3,-7.2 L14.7,-9.8 L10.4,-7.7Z" fill="#9a9aa8" opacity="0.3" filter="url(#b2)"/>
<g fill="#555570" filter="url(#b0)"><circle cx="13.4" cy="-6.5" r="0.50" opacity="0.32"/><circle cx="13.1" cy="-5.2" r="0.67" opacity="0.25"/><circle cx="11.1" cy="-7.3" r="0.76" opacity="0.24"/><circle cx="12.7" cy="-6.3" r="0.44" opacity="0.20"/><circle cx="15.0" cy="-7.2" r="0.53" opacity="0.32"/><circle cx="13.5" cy="-7.3" r="0.42" opacity="0.25"/></g>
<path d="M17.4,-13.7 L17.4,-27.0 L23.6,-27.0 L23.6,-15.6Z" fill="#a2d8a2" opacity="0.425" filter="url(#b3)"/>
<clipPath id="cp8"><path d="M17.4,-13.7 L17.4,-27.0 L23.6,-27.0 L23.6,-15.6Z"/></clipPath><g clip-path="url(#cp8)"><g filter="url(#b4)" stroke="#62b362" stroke-linecap="round"><line x1="19.3" y1="-14.8" x2="19.6" y2="-23.8" stroke-width="0.59" opacity="0.14"/><line x1="21.1" y1="-16.9" x2="21.9" y2="-21.6" stroke-width="0.37" opacity="0.12"/><line x1="20.8" y1="-18.2" x2="25.2" y2="-23.7" stroke-width="0.45" opacity="0.14"/><line x1="17.3" y1="-14.4" x2="18.8" y2="-20.5" stroke-width="0.40" opacity="0.09"/><line x1="17.5" y1="-16.8" x2="17.4" y2="-24.0" stroke-width="0.49" opacity="0.19"/><line x1="18.2" y1="-15.7" x2="19.4" y2="-24.2" stroke-width="0.47" opacity="0.22"/><line x1="19.2" y1="-13.9" x2="23.8" y2="-25.3" stroke-width="0.45" opacity="0.18"/><line x1="17.5" y1="-13.7" x2="17.5" y2="-27.7" stroke-width="0.79" opacity="0.23"/><line x1="20.8" y1="-14.8" x2="23.8" y2="-21.5" stroke-width="0.42" opacity="0.15"/><line x1="19.7" y1="-15.1" x2="22.7" y2="-21.6" stroke-width="0.53" opacity="0.13"/><line x1="19.4" y1="-17.7" x2="20.2" y2="-22.0" stroke-width="0.56" opacity="0.17"/><line x1="20.9" y1="-15.4" x2="25.5" y2="-23.7" stroke-width="0.48" opacity="0.17"/></g></g>
<path d="M22.0,-14.9 L22.5,-26.9 L20.5,-27.1 L19.0,-15.1Z" fill="#52b052" opacity="0.4" filter="url(#b3)"/>
<path d="M23.5,-15.6 L28.7,-25.0 L36.9,-29.1 L44.1,-33.2 L45.5,-30.0 L45.0,-22.4Z" fill="#a2d8a2" opacity="0.51" filter="url(#b3)"/>
<clipPath id="cp9"><path d="M23.5,-15.6 L28.7,-25.0 L36.9,-29.1 L44.1,-33.2 L45.5,-30.0 L45.0,-22.4Z"/></clipPath><g clip-path="url(#cp9)"><g filter="url(#b4)" stroke="#62b362" stroke-linecap="round"><line x1="23.2" y1="-16.1" x2="35.4" y2="-25.8" stroke-width="0.64" opacity="0.14"/><line x1="24.0" y1="-17.8" x2="30.9" y2="-26.2" stroke-width="0.72" opacity="0.19"/><line x1="24.7" y1="-16.5" x2="38.5" y2="-25.4" stroke-width="0.70" opacity="0.11"/><line x1="32.7" y1="-23.0" x2="41.7" y2="-30.8" stroke-width="0.49" opacity="0.18"/><line x1="33.9" y1="-21.7" x2="46.0" y2="-28.4" stroke-width="0.67" opacity="0.21"/><line x1="28.6" y1="-19.6" x2="36.8" y2="-25.2" stroke-width="0.65" opacity="0.21"/><line x1="31.6" y1="-22.3" x2="39.3" y2="-29.6" stroke-width="0.47" opacity="0.15"/><line x1="25.2" y1="-16.0" x2="31.0" y2="-32.6" stroke-width="0.46" opacity="0.25"/><line x1="27.0" y1="-21.8" x2="30.0" y2="-27.6" stroke-width="0.64" opacity="0.15"/><line x1="28.2" y1="-19.8" x2="37.4" y2="-31.3" stroke-width="0.63" opacity="0.23"/><line x1="24.7" y1="-19.7" x2="26.0" y2="-33.7" stroke-width="0.38" opacity="0.15"/><line x1="30.6" y1="-20.4" x2="40.4" y2="-29.1" stroke-width="0.61" opacity="0.18"/><line x1="24.3" y1="-22.2" x2="25.0" y2="-30.5" stroke-width="0.39" opacity="0.11"/><line x1="32.2" y1="-18.9" x2="45.1" y2="-24.9" stroke-width="0.37" opacity="0.15"/><line x1="27.1" y1="-17.5" x2="35.3" y2="-33.1" stroke-width="0.62" opacity="0.25"/><line x1="31.7" y1="-20.1" x2="39.0" y2="-25.5" stroke-width="0.75" opacity="0.16"/><line x1="26.2" y1="-19.7" x2="28.6" y2="-32.7" stroke-width="0.79" opacity="0.16"/><line x1="27.0" y1="-22.6" x2="29.0" y2="-30.7" stroke-width="0.51" opacity="0.25"/><line x1="32.7" y1="-21.4" x2="40.6" y2="-29.0" stroke-width="0.80" opacity="0.22"/><line x1="29.9" y1="-23.2" x2="34.0" y2="-31.4" stroke-width="0.48" opacity="0.14"/><line x1="25.8" y1="-17.1" x2="45.8" y2="-27.7" stroke-width="0.54" opacity="0.22"/><line x1="28.6" y1="-17.5" x2="40.0" y2="-25.4" stroke-width="0.79" opacity="0.20"/><line x1="27.1" y1="-19.6" x2="41.2" y2="-32.8" stroke-width="0.55" opacity="0.25"/><line x1="33.6" y1="-21.6" x2="41.5" y2="-29.2" stroke-width="0.44" opacity="0.16"/><line x1="25.5" y1="-21.9" x2="24.8" y2="-32.6" stroke-width="0.36" opacity="0.24"/><line x1="25.7" y1="-18.7" x2="25.0" y2="-28.0" stroke-width="0.77" opacity="0.25"/><line x1="30.9" y1="-18.5" x2="44.8" y2="-28.5" stroke-width="0.66" opacity="0.22"/><line x1="25.2" y1="-18.1" x2="28.3" y2="-27.1" stroke-width="0.73" opacity="0.18"/><line x1="25.6" y1="-16.3" x2="42.2" y2="-31.7" stroke-width="0.37" opacity="0.22"/></g></g>
<path d="M27.0,-15.8 L43.3,-24.9 L40.7,-29.1 L25.0,-19.2Z" fill="#52b052" opacity="0.38" filter="url(#b3)"/>
<path d="M30.0,-15.6 L44.0,-20.1 L44.0,-16.6 L30.0,-12.1Z" fill="#7c7a94" opacity="0.35" filter="url(#b3)"/>
<g fill="#555570" filter="url(#b0)"><circle cx="37.3" cy="-17.9" r="0.67" opacity="0.34"/><circle cx="37.4" cy="-14.8" r="0.43" opacity="0.31"/><circle cx="39.1" cy="-18.4" r="0.52" opacity="0.25"/><circle cx="43.4" cy="-17.1" r="0.40" opacity="0.34"/><circle cx="42.1" cy="-17.4" r="0.66" opacity="0.38"/><circle cx="35.5" cy="-14.8" r="0.60" opacity="0.28"/><circle cx="31.8" cy="-13.3" r="0.43" opacity="0.19"/><circle cx="40.6" cy="-15.9" r="0.46" opacity="0.23"/><circle cx="33.6" cy="-15.6" r="0.74" opacity="0.20"/></g>
<path d="M19.5,-14.3 L33.0,-18.6 L33.0,-16.6 L19.5,-10.3Z" fill="#121826" opacity="0.75" filter="url(#b1)"/>
<path d="M19.4,-4.3 L24.5,-12.4 L19.5,-14.6 L17.0,-5.3Z" fill="#4a5060" opacity=".38" filter="url(#b2)"/>
<path d="M18.8,-4.5 L24.5,-12.4 L19.5,-14.6 L17.6,-5.1Z" fill="#121826" opacity="0.95" filter="url(#b4)"/>
<line x1="0" y1="-39.5" x2="0" y2="2.8" stroke="#4a4a4a" stroke-width="1.1"/>
<line x1="-4" y1="0" x2="52.5" y2="0" stroke="#4a4a4a" stroke-width="1.2"/>
<line x1="0.00" y1="0" x2="0.00" y2="1.6" stroke="#555" stroke-width="0.7"/>
<line x1="2.45" y1="0" x2="2.45" y2="1.6" stroke="#555" stroke-width="0.7"/>
<line x1="4.90" y1="0" x2="4.90" y2="1.6" stroke="#555" stroke-width="0.7"/>
<line x1="7.35" y1="0" x2="7.35" y2="1.6" stroke="#555" stroke-width="0.7"/>
<line x1="9.79" y1="0" x2="9.79" y2="1.6" stroke="#555" stroke-width="0.7"/>
<line x1="12.24" y1="0" x2="12.24" y2="1.6" stroke="#555" stroke-width="0.7"/>
<line x1="14.69" y1="0" x2="14.69" y2="1.6" stroke="#555" stroke-width="0.7"/>
<line x1="17.14" y1="0" x2="17.14" y2="1.6" stroke="#555" stroke-width="0.7"/>
<line x1="19.59" y1="0" x2="19.59" y2="1.6" stroke="#555" stroke-width="0.7"/>
<line x1="22.04" y1="0" x2="22.04" y2="1.6" stroke="#555" stroke-width="0.7"/>
<line x1="24.49" y1="0" x2="24.49" y2="1.6" stroke="#555" stroke-width="0.7"/>
<line x1="26.93" y1="0" x2="26.93" y2="1.6" stroke="#555" stroke-width="0.7"/>
<line x1="29.38" y1="0" x2="29.38" y2="1.6" stroke="#555" stroke-width="0.7"/>
<line x1="31.83" y1="0" x2="31.83" y2="1.6" stroke="#555" stroke-width="0.7"/>
<line x1="34.28" y1="0" x2="34.28" y2="1.6" stroke="#555" stroke-width="0.7"/>
<line x1="36.73" y1="0" x2="36.73" y2="1.6" stroke="#555" stroke-width="0.7"/>
<line x1="39.18" y1="0" x2="39.18" y2="1.6" stroke="#555" stroke-width="0.7"/>
<line x1="41.63" y1="0" x2="41.63" y2="1.6" stroke="#555" stroke-width="0.7"/>
<line x1="44.07" y1="0" x2="44.07" y2="1.6" stroke="#555" stroke-width="0.7"/>
<line x1="46.52" y1="0" x2="46.52" y2="1.6" stroke="#555" stroke-width="0.7"/>
<line x1="48.97" y1="0" x2="48.97" y2="1.6" stroke="#555" stroke-width="0.7"/>
<line x1="51.42" y1="0" x2="51.42" y2="1.6" stroke="#555" stroke-width="0.7"/>
<line x1="0.00" y1="0" x2="0.00" y2="3" stroke="#555" stroke-width="0.7"/>
<line x1="17.14" y1="0" x2="17.14" y2="3" stroke="#555" stroke-width="0.7"/>
<line x1="34.28" y1="0" x2="34.28" y2="3" stroke="#555" stroke-width="0.7"/>
<line x1="51.42" y1="0" x2="51.42" y2="3" stroke="#555" stroke-width="0.7"/>
<line x1="-2.4" y1="-0.00" x2="0" y2="-0.00" stroke="#555" stroke-width="0.6"/>
<line x1="-1.4" y1="-5.84" x2="0" y2="-5.84" stroke="#555" stroke-width="0.6"/>
<line x1="-1.4" y1="-9.26" x2="0" y2="-9.26" stroke="#555" stroke-width="0.6"/>
<line x1="-1.4" y1="-11.68" x2="0" y2="-11.68" stroke="#555" stroke-width="0.6"/>
<line x1="-1.4" y1="-13.56" x2="0" y2="-13.56" stroke="#555" stroke-width="0.6"/>
<line x1="-1.4" y1="-15.10" x2="0" y2="-15.10" stroke="#555" stroke-width="0.6"/>
<line x1="-1.4" y1="-16.39" x2="0" y2="-16.39" stroke="#555" stroke-width="0.6"/>
<line x1="-1.4" y1="-17.52" x2="0" y2="-17.52" stroke="#555" stroke-width="0.6"/>
<line x1="-1.4" y1="-18.51" x2="0" y2="-18.51" stroke="#555" stroke-width="0.6"/>
<line x1="-2.4" y1="-19.40" x2="0" y2="-19.40" stroke="#555" stroke-width="0.6"/>
<line x1="-1.4" y1="-25.24" x2="0" y2="-25.24" stroke="#555" stroke-width="0.6"/>
<line x1="-1.4" y1="-28.66" x2="0" y2="-28.66" stroke="#555" stroke-width="0.6"/>
<line x1="-1.4" y1="-31.08" x2="0" y2="-31.08" stroke="#555" stroke-width="0.6"/>
<line x1="-1.4" y1="-32.96" x2="0" y2="-32.96" stroke="#555" stroke-width="0.6"/>
<line x1="-1.4" y1="-34.50" x2="0" y2="-34.50" stroke="#555" stroke-width="0.6"/>
<line x1="-1.4" y1="-35.79" x2="0" y2="-35.79" stroke="#555" stroke-width="0.6"/>
<line x1="-1.4" y1="-36.92" x2="0" y2="-36.92" stroke="#555" stroke-width="0.6"/>
<line x1="-1.4" y1="-37.91" x2="0" y2="-37.91" stroke="#555" stroke-width="0.6"/>
<line x1="-2.4" y1="-38.80" x2="0" y2="-38.80" stroke="#555" stroke-width="0.7"/>
<text x="-7.9" y="2.40" text-anchor="middle" font-size="6.9" fill="#222">0</text>
<text x="-7.9" y="-17.00" text-anchor="middle" font-size="6.9" fill="#222">1</text>
<text x="-7.9" y="-36.40" text-anchor="middle" font-size="6.9" fill="#222">2</text>
<text x="0.80" y="11.0" text-anchor="middle" font-size="6.9" fill="#222">0</text>
<text x="17.94" y="11.0" text-anchor="middle" font-size="6.9" fill="#222">2</text>
<text x="35.08" y="11.0" text-anchor="middle" font-size="6.9" fill="#222">4</text>
<text x="52.22" y="11.0" text-anchor="middle" font-size="6.9" fill="#222">6</text>
<text x="19.3" y="19.4" text-anchor="middle" font-size="7" textLength="8" lengthAdjust="spacingAndGlyphs" fill="#222">2N</text>
<text x="38.0" y="19.4" text-anchor="middle" font-size="7" textLength="8" lengthAdjust="spacingAndGlyphs" fill="#222">4N</text>
<line x1="0" y1="-8.2" x2="52.8" y2="-24.83" stroke="#333" stroke-width="0.85"/>
<g transform="translate(0,0)">
<polyline points="16.4,-13.4 16.4,-35.2 24,-35.2 21.9,-14.9" fill="none" stroke="#666" stroke-width="0.6"/>
<circle cx="16.4" cy="-35.2" r="0.6" fill="#444"/>
<text x="21.4" y="-35.4" font-size="3.9" font-weight="bold" fill="#444">R5</text>
</g>
<text x="42.6" y="-33.7" font-size="3.9" font-weight="bold" fill="#555">R2</text>
<text x="42" y="-17.4" font-size="3.9" font-weight="bold" fill="#555">R3</text>
</g>
<g transform="translate(385.2,205.7)">
<path d="M24.0,-15.8 L26.0,-22.0 L32.0,-25.0 L38.6,-26.4 L39.0,-20.5Z" fill="#a2d8a2" opacity="0.425" filter="url(#b3)"/>
<clipPath id="cp10"><path d="M24.0,-15.8 L26.0,-22.0 L32.0,-25.0 L38.6,-26.4 L39.0,-20.5Z"/></clipPath><g clip-path="url(#cp10)"><g filter="url(#b4)" stroke="#62b362" stroke-linecap="round"><line x1="23.8" y1="-15.8" x2="27.4" y2="-23.5" stroke-width="0.56" opacity="0.20"/><line x1="31.5" y1="-19.1" x2="39.4" y2="-23.7" stroke-width="0.45" opacity="0.18"/><line x1="27.4" y1="-18.9" x2="34.2" y2="-24.5" stroke-width="0.54" opacity="0.17"/><line x1="26.4" y1="-16.1" x2="31.7" y2="-21.6" stroke-width="0.54" opacity="0.22"/><line x1="26.8" y1="-20.6" x2="30.0" y2="-26.4" stroke-width="0.65" opacity="0.12"/><line x1="25.6" y1="-15.7" x2="40.0" y2="-24.5" stroke-width="0.47" opacity="0.15"/><line x1="26.9" y1="-17.5" x2="38.7" y2="-25.1" stroke-width="0.51" opacity="0.19"/><line x1="24.7" y1="-16.4" x2="37.9" y2="-22.5" stroke-width="0.68" opacity="0.13"/><line x1="33.2" y1="-19.0" x2="40.5" y2="-22.2" stroke-width="0.70" opacity="0.11"/><line x1="28.7" y1="-17.5" x2="40.4" y2="-26.6" stroke-width="0.59" opacity="0.10"/><line x1="26.7" y1="-17.1" x2="36.6" y2="-22.7" stroke-width="0.58" opacity="0.16"/><line x1="29.4" y1="-18.1" x2="36.4" y2="-21.2" stroke-width="0.54" opacity="0.15"/><line x1="25.2" y1="-16.9" x2="29.8" y2="-23.4" stroke-width="0.65" opacity="0.13"/><line x1="24.7" y1="-16.3" x2="29.3" y2="-23.1" stroke-width="0.65" opacity="0.15"/></g></g>
<path d="M23.8,-14.0 L24.8,-24.7 L21.8,-25.3 L18.8,-15.0Z" fill="#2a9a34" opacity="0.85" filter="url(#b3)"/>
<path d="M23.5,-15.7 L24.7,-22.7 L22.3,-23.3 L20.5,-16.3Z" fill="#2a9a34" opacity="0.75" filter="url(#b1)"/>
<path d="M19.8,-12.0 L22.1,-14.1 L24.4,-15.2 L26.7,-16.2 L29.0,-17.0 L31.3,-17.8 L33.5,-18.6 L35.8,-19.3 L38.1,-19.9 L40.4,-20.5 L42.7,-21.1 L45.0,-21.6 L47.3,-21.3 L47.3,-21.3 L45.0,-19.5 L42.7,-18.4 L40.4,-17.4 L38.1,-16.5 L35.8,-15.6 L33.5,-14.8 L31.3,-14.0 L29.0,-13.2 L26.7,-12.5 L24.4,-11.9 L22.1,-11.5 L19.8,-12.0Z" fill="#262a3a" opacity="0.92" filter="url(#b5)"/>
<path d="M25.0,-14.6 L44.0,-20.6 L44.0,-19.8 L25.0,-13.4Z" fill="#d8d8e2" opacity="0.7" filter="url(#b1)"/>
<path d="M19.3,-4.3 L21.7,-12.9 L18.7,-13.5 L17.1,-4.7Z" fill="#4a5060" opacity=".38" filter="url(#b2)"/>
<path d="M18.7,-4.4 L21.7,-12.9 L18.7,-13.5 L17.7,-4.6Z" fill="#121826" opacity="0.95" filter="url(#b4)"/>
<line x1="0" y1="-39.5" x2="0" y2="2.8" stroke="#4a4a4a" stroke-width="1.1"/>
<line x1="-4" y1="0" x2="52.5" y2="0" stroke="#4a4a4a" stroke-width="1.2"/>
<line x1="0.00" y1="0" x2="0.00" y2="1.6" stroke="#555" stroke-width="0.7"/>
<line x1="2.45" y1="0" x2="2.45" y2="1.6" stroke="#555" stroke-width="0.7"/>
<line x1="4.90" y1="0" x2="4.90" y2="1.6" stroke="#555" stroke-width="0.7"/>
<line x1="7.35" y1="0" x2="7.35" y2="1.6" stroke="#555" stroke-width="0.7"/>
<line x1="9.79" y1="0" x2="9.79" y2="1.6" stroke="#555" stroke-width="0.7"/>
<line x1="12.24" y1="0" x2="12.24" y2="1.6" stroke="#555" stroke-width="0.7"/>
<line x1="14.69" y1="0" x2="14.69" y2="1.6" stroke="#555" stroke-width="0.7"/>
<line x1="17.14" y1="0" x2="17.14" y2="1.6" stroke="#555" stroke-width="0.7"/>
<line x1="19.59" y1="0" x2="19.59" y2="1.6" stroke="#555" stroke-width="0.7"/>
<line x1="22.04" y1="0" x2="22.04" y2="1.6" stroke="#555" stroke-width="0.7"/>
<line x1="24.49" y1="0" x2="24.49" y2="1.6" stroke="#555" stroke-width="0.7"/>
<line x1="26.93" y1="0" x2="26.93" y2="1.6" stroke="#555" stroke-width="0.7"/>
<line x1="29.38" y1="0" x2="29.38" y2="1.6" stroke="#555" stroke-width="0.7"/>
<line x1="31.83" y1="0" x2="31.83" y2="1.6" stroke="#555" stroke-width="0.7"/>
<line x1="34.28" y1="0" x2="34.28" y2="1.6" stroke="#555" stroke-width="0.7"/>
<line x1="36.73" y1="0" x2="36.73" y2="1.6" stroke="#555" stroke-width="0.7"/>
<line x1="39.18" y1="0" x2="39.18" y2="1.6" stroke="#555" stroke-width="0.7"/>
<line x1="41.63" y1="0" x2="41.63" y2="1.6" stroke="#555" stroke-width="0.7"/>
<line x1="44.07" y1="0" x2="44.07" y2="1.6" stroke="#555" stroke-width="0.7"/>
<line x1="46.52" y1="0" x2="46.52" y2="1.6" stroke="#555" stroke-width="0.7"/>
<line x1="48.97" y1="0" x2="48.97" y2="1.6" stroke="#555" stroke-width="0.7"/>
<line x1="51.42" y1="0" x2="51.42" y2="1.6" stroke="#555" stroke-width="0.7"/>
<line x1="0.00" y1="0" x2="0.00" y2="3" stroke="#555" stroke-width="0.7"/>
<line x1="17.14" y1="0" x2="17.14" y2="3" stroke="#555" stroke-width="0.7"/>
<line x1="34.28" y1="0" x2="34.28" y2="3" stroke="#555" stroke-width="0.7"/>
<line x1="51.42" y1="0" x2="51.42" y2="3" stroke="#555" stroke-width="0.7"/>
<line x1="-2.4" y1="-0.00" x2="0" y2="-0.00" stroke="#555" stroke-width="0.6"/>
<line x1="-1.4" y1="-5.84" x2="0" y2="-5.84" stroke="#555" stroke-width="0.6"/>
<line x1="-1.4" y1="-9.26" x2="0" y2="-9.26" stroke="#555" stroke-width="0.6"/>
<line x1="-1.4" y1="-11.68" x2="0" y2="-11.68" stroke="#555" stroke-width="0.6"/>
<line x1="-1.4" y1="-13.56" x2="0" y2="-13.56" stroke="#555" stroke-width="0.6"/>
<line x1="-1.4" y1="-15.10" x2="0" y2="-15.10" stroke="#555" stroke-width="0.6"/>
<line x1="-1.4" y1="-16.39" x2="0" y2="-16.39" stroke="#555" stroke-width="0.6"/>
<line x1="-1.4" y1="-17.52" x2="0" y2="-17.52" stroke="#555" stroke-width="0.6"/>
<line x1="-1.4" y1="-18.51" x2="0" y2="-18.51" stroke="#555" stroke-width="0.6"/>
<line x1="-2.4" y1="-19.40" x2="0" y2="-19.40" stroke="#555" stroke-width="0.6"/>
<line x1="-1.4" y1="-25.24" x2="0" y2="-25.24" stroke="#555" stroke-width="0.6"/>
<line x1="-1.4" y1="-28.66" x2="0" y2="-28.66" stroke="#555" stroke-width="0.6"/>
<line x1="-1.4" y1="-31.08" x2="0" y2="-31.08" stroke="#555" stroke-width="0.6"/>
<line x1="-1.4" y1="-32.96" x2="0" y2="-32.96" stroke="#555" stroke-width="0.6"/>
<line x1="-1.4" y1="-34.50" x2="0" y2="-34.50" stroke="#555" stroke-width="0.6"/>
<line x1="-1.4" y1="-35.79" x2="0" y2="-35.79" stroke="#555" stroke-width="0.6"/>
<line x1="-1.4" y1="-36.92" x2="0" y2="-36.92" stroke="#555" stroke-width="0.6"/>
<line x1="-1.4" y1="-37.91" x2="0" y2="-37.91" stroke="#555" stroke-width="0.6"/>
<line x1="-2.4" y1="-38.80" x2="0" y2="-38.80" stroke="#555" stroke-width="0.7"/>
<text x="-7.9" y="2.40" text-anchor="middle" font-size="6.9" fill="#222">0</text>
<text x="-7.9" y="-17.00" text-anchor="middle" font-size="6.9" fill="#222">1</text>
<text x="-7.9" y="-36.40" text-anchor="middle" font-size="6.9" fill="#222">2</text>
<text x="0.80" y="11.0" text-anchor="middle" font-size="6.9" fill="#222">0</text>
<text x="17.94" y="11.0" text-anchor="middle" font-size="6.9" fill="#222">2</text>
<text x="35.08" y="11.0" text-anchor="middle" font-size="6.9" fill="#222">4</text>
<text x="52.22" y="11.0" text-anchor="middle" font-size="6.9" fill="#222">6</text>
<text x="19.3" y="19.4" text-anchor="middle" font-size="7" textLength="8" lengthAdjust="spacingAndGlyphs" fill="#222">2N</text>
<text x="38.0" y="19.4" text-anchor="middle" font-size="7" textLength="8" lengthAdjust="spacingAndGlyphs" fill="#222">4N</text>
<line x1="0" y1="-8.2" x2="52.8" y2="-24.83" stroke="#333" stroke-width="0.85"/>
<g transform="translate(0,0)">
<polyline points="16.4,-13.4 16.4,-35.2 24,-35.2 21.9,-14.9" fill="none" stroke="#666" stroke-width="0.6"/>
<circle cx="16.4" cy="-35.2" r="0.6" fill="#444"/>
<text x="21.4" y="-35.4" font-size="3.9" font-weight="bold" fill="#444">R5</text>
</g>
<text x="41.6" y="-32.5" font-size="3.9" font-weight="bold" fill="#555">R2</text>
<text x="42" y="-17.4" font-size="3.9" font-weight="bold" fill="#555">R3</text>
</g>
<g transform="translate(384.9,277.5)">
<path d="M24.0,-15.8 L25.0,-25.0 L30.0,-27.0 L38.9,-24.0 L39.0,-20.5Z" fill="#a2d8a2" opacity="0.425" filter="url(#b3)"/>
<clipPath id="cp11"><path d="M24.0,-15.8 L25.0,-25.0 L30.0,-27.0 L38.9,-24.0 L39.0,-20.5Z"/></clipPath><g clip-path="url(#cp11)"><g filter="url(#b4)" stroke="#62b362" stroke-linecap="round"><line x1="27.6" y1="-19.1" x2="31.2" y2="-24.3" stroke-width="0.79" opacity="0.18"/><line x1="31.3" y1="-19.6" x2="37.7" y2="-24.2" stroke-width="0.61" opacity="0.18"/><line x1="25.5" y1="-16.1" x2="25.1" y2="-22.3" stroke-width="0.61" opacity="0.17"/><line x1="26.2" y1="-18.8" x2="26.7" y2="-25.3" stroke-width="0.65" opacity="0.22"/><line x1="30.4" y1="-21.6" x2="37.4" y2="-27.5" stroke-width="0.66" opacity="0.12"/><line x1="25.4" y1="-15.8" x2="27.1" y2="-26.5" stroke-width="0.64" opacity="0.13"/><line x1="27.6" y1="-17.8" x2="28.9" y2="-21.4" stroke-width="0.61" opacity="0.10"/><line x1="26.9" y1="-16.4" x2="30.4" y2="-24.0" stroke-width="0.78" opacity="0.19"/><line x1="25.2" y1="-16.7" x2="38.3" y2="-24.8" stroke-width="0.52" opacity="0.17"/><line x1="32.4" y1="-18.9" x2="40.4" y2="-21.6" stroke-width="0.35" opacity="0.10"/><line x1="30.4" y1="-18.9" x2="35.5" y2="-24.0" stroke-width="0.75" opacity="0.22"/><line x1="25.7" y1="-15.3" x2="39.0" y2="-24.6" stroke-width="0.59" opacity="0.15"/><line x1="28.9" y1="-18.7" x2="37.4" y2="-26.7" stroke-width="0.60" opacity="0.13"/><line x1="31.3" y1="-19.1" x2="36.3" y2="-22.7" stroke-width="0.62" opacity="0.20"/><line x1="26.1" y1="-16.4" x2="27.0" y2="-25.0" stroke-width="0.62" opacity="0.20"/><line x1="23.4" y1="-16.2" x2="38.4" y2="-27.7" stroke-width="0.74" opacity="0.20"/><line x1="24.7" y1="-16.1" x2="37.4" y2="-24.3" stroke-width="0.72" opacity="0.12"/></g></g>
<path d="M22.7,-12.9 L23.8,-22.6 L19.8,-23.4 L16.9,-14.1Z" fill="#3caa3c" opacity="0.95" filter="url(#b3)"/>
<path d="M22.5,-14.1 L23.5,-21.2 L20.5,-21.8 L18.5,-14.9Z" fill="#3caa3c" opacity="0.8" filter="url(#b1)"/>
<path d="M19.8,-11.0 L22.1,-13.9 L24.4,-15.1 L26.7,-16.2 L29.0,-17.1 L31.3,-17.9 L33.6,-18.7 L36.0,-19.4 L38.3,-20.0 L40.6,-20.6 L42.9,-21.1 L45.2,-21.5 L47.5,-21.0 L47.5,-21.0 L45.2,-18.8 L42.9,-17.5 L40.6,-16.4 L38.3,-15.3 L36.0,-14.3 L33.6,-13.3 L31.3,-12.4 L29.0,-11.6 L26.7,-10.9 L24.4,-10.3 L22.1,-9.9 L19.8,-11.0Z" fill="#1e2230" opacity="0.95" filter="url(#b5)"/>
<path d="M25.0,-13.0 L26.6,-14.2 L28.2,-14.9 L29.9,-15.5 L31.5,-16.1 L33.1,-16.6 L34.8,-17.1 L36.4,-17.6 L38.0,-18.1 L39.6,-18.6 L41.2,-19.0 L42.9,-19.4 L44.5,-19.5 L44.5,-19.5 L42.9,-18.5 L41.2,-17.8 L39.6,-17.2 L38.0,-16.5 L36.4,-15.9 L34.8,-15.3 L33.1,-14.8 L31.5,-14.2 L29.9,-13.7 L28.2,-13.3 L26.6,-12.9 L25.0,-13.0Z" fill="#c8c8d4" opacity="0.55" filter="url(#b1)"/>
<path d="M19.3,-4.2 L21.8,-13.5 L18.8,-14.1 L17.1,-4.6Z" fill="#4a5060" opacity=".38" filter="url(#b2)"/>
<path d="M18.7,-4.3 L21.8,-13.5 L18.8,-14.1 L17.7,-4.5Z" fill="#121826" opacity="0.95" filter="url(#b4)"/>
<line x1="0" y1="-39.5" x2="0" y2="2.8" stroke="#4a4a4a" stroke-width="1.1"/>
<line x1="-4" y1="0" x2="52.5" y2="0" stroke="#4a4a4a" stroke-width="1.2"/>
<line x1="0.00" y1="0" x2="0.00" y2="1.6" stroke="#555" stroke-width="0.7"/>
<line x1="2.45" y1="0" x2="2.45" y2="1.6" stroke="#555" stroke-width="0.7"/>
<line x1="4.90" y1="0" x2="4.90" y2="1.6" stroke="#555" stroke-width="0.7"/>
<line x1="7.35" y1="0" x2="7.35" y2="1.6" stroke="#555" stroke-width="0.7"/>
<line x1="9.79" y1="0" x2="9.79" y2="1.6" stroke="#555" stroke-width="0.7"/>
<line x1="12.24" y1="0" x2="12.24" y2="1.6" stroke="#555" stroke-width="0.7"/>
<line x1="14.69" y1="0" x2="14.69" y2="1.6" stroke="#555" stroke-width="0.7"/>
<line x1="17.14" y1="0" x2="17.14" y2="1.6" stroke="#555" stroke-width="0.7"/>
<line x1="19.59" y1="0" x2="19.59" y2="1.6" stroke="#555" stroke-width="0.7"/>
<line x1="22.04" y1="0" x2="22.04" y2="1.6" stroke="#555" stroke-width="0.7"/>
<line x1="24.49" y1="0" x2="24.49" y2="1.6" stroke="#555" stroke-width="0.7"/>
<line x1="26.93" y1="0" x2="26.93" y2="1.6" stroke="#555" stroke-width="0.7"/>
<line x1="29.38" y1="0" x2="29.38" y2="1.6" stroke="#555" stroke-width="0.7"/>
<line x1="31.83" y1="0" x2="31.83" y2="1.6" stroke="#555" stroke-width="0.7"/>
<line x1="34.28" y1="0" x2="34.28" y2="1.6" stroke="#555" stroke-width="0.7"/>
<line x1="36.73" y1="0" x2="36.73" y2="1.6" stroke="#555" stroke-width="0.7"/>
<line x1="39.18" y1="0" x2="39.18" y2="1.6" stroke="#555" stroke-width="0.7"/>
<line x1="41.63" y1="0" x2="41.63" y2="1.6" stroke="#555" stroke-width="0.7"/>
<line x1="44.07" y1="0" x2="44.07" y2="1.6" stroke="#555" stroke-width="0.7"/>
<line x1="46.52" y1="0" x2="46.52" y2="1.6" stroke="#555" stroke-width="0.7"/>
<line x1="48.97" y1="0" x2="48.97" y2="1.6" stroke="#555" stroke-width="0.7"/>
<line x1="51.42" y1="0" x2="51.42" y2="1.6" stroke="#555" stroke-width="0.7"/>
<line x1="0.00" y1="0" x2="0.00" y2="3" stroke="#555" stroke-width="0.7"/>
<line x1="17.14" y1="0" x2="17.14" y2="3" stroke="#555" stroke-width="0.7"/>
<line x1="34.28" y1="0" x2="34.28" y2="3" stroke="#555" stroke-width="0.7"/>
<line x1="51.42" y1="0" x2="51.42" y2="3" stroke="#555" stroke-width="0.7"/>
<line x1="-2.4" y1="-0.00" x2="0" y2="-0.00" stroke="#555" stroke-width="0.6"/>
<line x1="-1.4" y1="-5.84" x2="0" y2="-5.84" stroke="#555" stroke-width="0.6"/>
<line x1="-1.4" y1="-9.26" x2="0" y2="-9.26" stroke="#555" stroke-width="0.6"/>
<line x1="-1.4" y1="-11.68" x2="0" y2="-11.68" stroke="#555" stroke-width="0.6"/>
<line x1="-1.4" y1="-13.56" x2="0" y2="-13.56" stroke="#555" stroke-width="0.6"/>
<line x1="-1.4" y1="-15.10" x2="0" y2="-15.10" stroke="#555" stroke-width="0.6"/>
<line x1="-1.4" y1="-16.39" x2="0" y2="-16.39" stroke="#555" stroke-width="0.6"/>
<line x1="-1.4" y1="-17.52" x2="0" y2="-17.52" stroke="#555" stroke-width="0.6"/>
<line x1="-1.4" y1="-18.51" x2="0" y2="-18.51" stroke="#555" stroke-width="0.6"/>
<line x1="-2.4" y1="-19.40" x2="0" y2="-19.40" stroke="#555" stroke-width="0.6"/>
<line x1="-1.4" y1="-25.24" x2="0" y2="-25.24" stroke="#555" stroke-width="0.6"/>
<line x1="-1.4" y1="-28.66" x2="0" y2="-28.66" stroke="#555" stroke-width="0.6"/>
<line x1="-1.4" y1="-31.08" x2="0" y2="-31.08" stroke="#555" stroke-width="0.6"/>
<line x1="-1.4" y1="-32.96" x2="0" y2="-32.96" stroke="#555" stroke-width="0.6"/>
<line x1="-1.4" y1="-34.50" x2="0" y2="-34.50" stroke="#555" stroke-width="0.6"/>
<line x1="-1.4" y1="-35.79" x2="0" y2="-35.79" stroke="#555" stroke-width="0.6"/>
<line x1="-1.4" y1="-36.92" x2="0" y2="-36.92" stroke="#555" stroke-width="0.6"/>
<line x1="-1.4" y1="-37.91" x2="0" y2="-37.91" stroke="#555" stroke-width="0.6"/>
<line x1="-2.4" y1="-38.80" x2="0" y2="-38.80" stroke="#555" stroke-width="0.7"/>
<text x="-7.9" y="2.40" text-anchor="middle" font-size="6.9" fill="#222">0</text>
<text x="-7.9" y="-17.00" text-anchor="middle" font-size="6.9" fill="#222">1</text>
<text x="-7.9" y="-36.40" text-anchor="middle" font-size="6.9" fill="#222">2</text>
<text x="0.80" y="11.0" text-anchor="middle" font-size="6.9" fill="#222">0</text>
<text x="17.94" y="11.0" text-anchor="middle" font-size="6.9" fill="#222">2</text>
<text x="35.08" y="11.0" text-anchor="middle" font-size="6.9" fill="#222">4</text>
<text x="52.22" y="11.0" text-anchor="middle" font-size="6.9" fill="#222">6</text>
<text x="19.3" y="19.4" text-anchor="middle" font-size="7" textLength="8" lengthAdjust="spacingAndGlyphs" fill="#222">2N</text>
<text x="38.0" y="19.4" text-anchor="middle" font-size="7" textLength="8" lengthAdjust="spacingAndGlyphs" fill="#222">4N</text>
<line x1="0" y1="-8.2" x2="52.8" y2="-24.83" stroke="#333" stroke-width="0.85"/>
<g transform="translate(0,0)">
<polyline points="16.4,-13.4 16.4,-35.2 24,-35.2 21.9,-14.9" fill="none" stroke="#666" stroke-width="0.6"/>
<circle cx="16.4" cy="-35.2" r="0.6" fill="#444"/>
<text x="21.4" y="-35.4" font-size="3.9" font-weight="bold" fill="#444">R5</text>
</g>
<text x="40.4" y="-33.9" font-size="3.9" font-weight="bold" fill="#555">R2</text>
<text x="42" y="-17.4" font-size="3.9" font-weight="bold" fill="#555">R3</text>
</g>
<g transform="translate(385.4,349.4)">
<path d="M11.9,-4.2 L16.7,-7.2 L15.3,-9.8 L10.1,-7.8Z" fill="#9a9aa8" opacity="0.3" filter="url(#b2)"/>
<g fill="#555570" filter="url(#b0)"><circle cx="13.9" cy="-6.8" r="0.73" opacity="0.33"/><circle cx="15.2" cy="-7.5" r="0.59" opacity="0.29"/><circle cx="13.9" cy="-8.3" r="0.46" opacity="0.32"/><circle cx="13.6" cy="-8.8" r="0.48" opacity="0.26"/><circle cx="15.2" cy="-6.9" r="0.76" opacity="0.25"/><circle cx="12.3" cy="-5.8" r="0.47" opacity="0.23"/></g>
<path d="M16.8,-13.5 L16.8,-27.0 L24.0,-27.0 L24.0,-15.8Z" fill="#a2d8a2" opacity="0.595" filter="url(#b3)"/>
<clipPath id="cp12"><path d="M16.8,-13.5 L16.8,-27.0 L24.0,-27.0 L24.0,-15.8Z"/></clipPath><g clip-path="url(#cp12)"><g filter="url(#b4)" stroke="#62b362" stroke-linecap="round"><line x1="20.2" y1="-15.9" x2="22.1" y2="-26.5" stroke-width="0.65" opacity="0.17"/><line x1="18.7" y1="-19.7" x2="18.8" y2="-25.8" stroke-width="0.38" opacity="0.16"/><line x1="17.3" y1="-14.9" x2="17.6" y2="-22.0" stroke-width="0.64" opacity="0.20"/><line x1="17.7" y1="-18.5" x2="18.7" y2="-24.7" stroke-width="0.66" opacity="0.25"/><line x1="18.9" y1="-15.9" x2="24.9" y2="-24.9" stroke-width="0.65" opacity="0.13"/><line x1="18.6" y1="-17.8" x2="21.1" y2="-23.9" stroke-width="0.35" opacity="0.23"/><line x1="16.7" y1="-15.4" x2="18.2" y2="-27.7" stroke-width="0.66" opacity="0.27"/><line x1="18.8" y1="-17.6" x2="20.1" y2="-22.9" stroke-width="0.49" opacity="0.29"/><line x1="15.9" y1="-14.5" x2="23.2" y2="-22.7" stroke-width="0.51" opacity="0.31"/><line x1="19.6" y1="-16.3" x2="24.9" y2="-21.5" stroke-width="0.71" opacity="0.28"/><line x1="18.6" y1="-19.1" x2="18.1" y2="-26.6" stroke-width="0.55" opacity="0.30"/><line x1="19.3" y1="-14.0" x2="18.1" y2="-20.6" stroke-width="0.60" opacity="0.26"/><line x1="17.1" y1="-13.5" x2="20.0" y2="-27.6" stroke-width="0.77" opacity="0.17"/><line x1="19.6" y1="-15.0" x2="18.7" y2="-27.1" stroke-width="0.39" opacity="0.25"/></g></g>
<path d="M18.0,-13.9 L18.0,-22.0 L23.5,-22.0 L23.5,-15.6Z" fill="#7cc05a" opacity="0.6" filter="url(#b3)"/>
<path d="M23.5,-15.6 L26.0,-27.0 L35.0,-29.0 L42.5,-27.0 L42.5,-21.6Z" fill="#a2d8a2" opacity="0.637" filter="url(#b3)"/>
<clipPath id="cp13"><path d="M23.5,-15.6 L26.0,-27.0 L35.0,-29.0 L42.5,-27.0 L42.5,-21.6Z"/></clipPath><g clip-path="url(#cp13)"><g filter="url(#b4)" stroke="#62b362" stroke-linecap="round"><line x1="28.4" y1="-17.3" x2="43.7" y2="-23.3" stroke-width="0.67" opacity="0.28"/><line x1="25.4" y1="-20.4" x2="23.9" y2="-28.7" stroke-width="0.50" opacity="0.25"/><line x1="29.5" y1="-18.9" x2="41.6" y2="-25.5" stroke-width="0.63" opacity="0.21"/><line x1="26.3" y1="-19.0" x2="33.3" y2="-25.9" stroke-width="0.40" opacity="0.24"/><line x1="31.3" y1="-19.4" x2="40.3" y2="-23.6" stroke-width="0.51" opacity="0.32"/><line x1="24.7" y1="-18.6" x2="27.7" y2="-23.5" stroke-width="0.60" opacity="0.25"/><line x1="23.6" y1="-15.7" x2="42.7" y2="-22.3" stroke-width="0.52" opacity="0.16"/><line x1="22.9" y1="-16.3" x2="26.9" y2="-25.2" stroke-width="0.72" opacity="0.17"/><line x1="25.3" y1="-18.0" x2="25.0" y2="-25.2" stroke-width="0.59" opacity="0.27"/><line x1="27.4" y1="-18.7" x2="30.0" y2="-23.5" stroke-width="0.73" opacity="0.23"/><line x1="29.2" y1="-20.1" x2="34.5" y2="-24.4" stroke-width="0.44" opacity="0.22"/><line x1="28.1" y1="-21.1" x2="33.0" y2="-29.3" stroke-width="0.63" opacity="0.19"/><line x1="25.1" y1="-15.0" x2="35.4" y2="-22.6" stroke-width="0.66" opacity="0.17"/><line x1="23.6" y1="-17.6" x2="26.9" y2="-27.5" stroke-width="0.45" opacity="0.18"/><line x1="27.6" y1="-19.7" x2="40.3" y2="-29.4" stroke-width="0.45" opacity="0.23"/><line x1="26.2" y1="-21.8" x2="28.5" y2="-28.5" stroke-width="0.60" opacity="0.20"/><line x1="25.6" y1="-16.6" x2="35.0" y2="-22.7" stroke-width="0.52" opacity="0.28"/><line x1="27.9" y1="-18.4" x2="36.4" y2="-27.9" stroke-width="0.70" opacity="0.30"/><line x1="24.9" y1="-16.0" x2="33.1" y2="-29.9" stroke-width="0.51" opacity="0.30"/><line x1="23.3" y1="-17.1" x2="24.3" y2="-28.6" stroke-width="0.66" opacity="0.26"/><line x1="23.2" y1="-17.8" x2="23.8" y2="-26.6" stroke-width="0.52" opacity="0.28"/><line x1="25.7" y1="-18.1" x2="40.8" y2="-29.5" stroke-width="0.55" opacity="0.21"/><line x1="28.4" y1="-16.5" x2="43.9" y2="-24.8" stroke-width="0.61" opacity="0.16"/><line x1="30.5" y1="-21.8" x2="35.8" y2="-28.9" stroke-width="0.45" opacity="0.17"/><line x1="26.6" y1="-17.6" x2="28.7" y2="-23.7" stroke-width="0.42" opacity="0.17"/><line x1="23.0" y1="-15.2" x2="24.2" y2="-22.8" stroke-width="0.48" opacity="0.24"/></g></g>
<path d="M25.0,-15.8 L45.0,-22.1 L45.0,-18.6 L25.0,-10.8Z" fill="#45455e" opacity="0.65" filter="url(#b3)"/>
<g fill="#555570" filter="url(#b0)"><circle cx="26.1" cy="-11.9" r="0.46" opacity="0.37"/><circle cx="35.0" cy="-15.2" r="0.77" opacity="0.41"/><circle cx="43.2" cy="-21.4" r="0.61" opacity="0.56"/><circle cx="40.4" cy="-19.0" r="0.44" opacity="0.48"/><circle cx="28.8" cy="-12.8" r="0.65" opacity="0.44"/><circle cx="30.0" cy="-13.6" r="0.62" opacity="0.45"/><circle cx="41.1" cy="-17.6" r="0.77" opacity="0.70"/><circle cx="28.5" cy="-15.4" r="0.60" opacity="0.68"/><circle cx="42.5" cy="-19.5" r="0.66" opacity="0.36"/><circle cx="30.2" cy="-16.8" r="0.54" opacity="0.61"/><circle cx="44.2" cy="-21.4" r="0.66" opacity="0.57"/><circle cx="28.1" cy="-16.3" r="0.74" opacity="0.64"/><circle cx="27.1" cy="-13.4" r="0.58" opacity="0.70"/><circle cx="25.3" cy="-11.2" r="0.45" opacity="0.68"/><circle cx="31.6" cy="-15.7" r="0.50" opacity="0.66"/><circle cx="33.8" cy="-15.9" r="0.47" opacity="0.68"/></g>
<path d="M31.3,-17.1 L34.3,-18.3 L33.7,-19.7 L30.7,-18.5Z" fill="#2a2e40" opacity="0.6" filter="url(#b1)"/>
<path d="M37.3,-19.0 L40.3,-20.0 L39.7,-21.6 L36.7,-20.6Z" fill="#2a2e40" opacity="0.6" filter="url(#b1)"/>
<path d="M42.2,-20.6 L44.7,-21.4 L44.3,-22.8 L41.8,-22.0Z" fill="#2a2e40" opacity="0.55" filter="url(#b1)"/>
<path d="M19.4,-4.2 L22.9,-13.1 L19.1,-14.3 L17.0,-5.0Z" fill="#4a5060" opacity=".38" filter="url(#b2)"/>
<path d="M18.8,-4.4 L22.9,-13.1 L19.1,-14.3 L17.6,-4.8Z" fill="#121826" opacity="0.95" filter="url(#b4)"/>
<line x1="0" y1="-39.5" x2="0" y2="2.8" stroke="#4a4a4a" stroke-width="1.1"/>
<line x1="-4" y1="0" x2="52.5" y2="0" stroke="#4a4a4a" stroke-width="1.2"/>
<line x1="0.00" y1="0" x2="0.00" y2="1.6" stroke="#555" stroke-width="0.7"/>
<line x1="2.45" y1="0" x2="2.45" y2="1.6" stroke="#555" stroke-width="0.7"/>
<line x1="4.90" y1="0" x2="4.90" y2="1.6" stroke="#555" stroke-width="0.7"/>
<line x1="7.35" y1="0" x2="7.35" y2="1.6" stroke="#555" stroke-width="0.7"/>
<line x1="9.79" y1="0" x2="9.79" y2="1.6" stroke="#555" stroke-width="0.7"/>
<line x1="12.24" y1="0" x2="12.24" y2="1.6" stroke="#555" stroke-width="0.7"/>
<line x1="14.69" y1="0" x2="14.69" y2="1.6" stroke="#555" stroke-width="0.7"/>
<line x1="17.14" y1="0" x2="17.14" y2="1.6" stroke="#555" stroke-width="0.7"/>
<line x1="19.59" y1="0" x2="19.59" y2="1.6" stroke="#555" stroke-width="0.7"/>
<line x1="22.04" y1="0" x2="22.04" y2="1.6" stroke="#555" stroke-width="0.7"/>
<line x1="24.49" y1="0" x2="24.49" y2="1.6" stroke="#555" stroke-width="0.7"/>
<line x1="26.93" y1="0" x2="26.93" y2="1.6" stroke="#555" stroke-width="0.7"/>
<line x1="29.38" y1="0" x2="29.38" y2="1.6" stroke="#555" stroke-width="0.7"/>
<line x1="31.83" y1="0" x2="31.83" y2="1.6" stroke="#555" stroke-width="0.7"/>
<line x1="34.28" y1="0" x2="34.28" y2="1.6" stroke="#555" stroke-width="0.7"/>
<line x1="36.73" y1="0" x2="36.73" y2="1.6" stroke="#555" stroke-width="0.7"/>
<line x1="39.18" y1="0" x2="39.18" y2="1.6" stroke="#555" stroke-width="0.7"/>
<line x1="41.63" y1="0" x2="41.63" y2="1.6" stroke="#555" stroke-width="0.7"/>
<line x1="44.07" y1="0" x2="44.07" y2="1.6" stroke="#555" stroke-width="0.7"/>
<line x1="46.52" y1="0" x2="46.52" y2="1.6" stroke="#555" stroke-width="0.7"/>
<line x1="48.97" y1="0" x2="48.97" y2="1.6" stroke="#555" stroke-width="0.7"/>
<line x1="51.42" y1="0" x2="51.42" y2="1.6" stroke="#555" stroke-width="0.7"/>
<line x1="0.00" y1="0" x2="0.00" y2="3" stroke="#555" stroke-width="0.7"/>
<line x1="17.14" y1="0" x2="17.14" y2="3" stroke="#555" stroke-width="0.7"/>
<line x1="34.28" y1="0" x2="34.28" y2="3" stroke="#555" stroke-width="0.7"/>
<line x1="51.42" y1="0" x2="51.42" y2="3" stroke="#555" stroke-width="0.7"/>
<line x1="-2.4" y1="-0.00" x2="0" y2="-0.00" stroke="#555" stroke-width="0.6"/>
<line x1="-1.4" y1="-5.84" x2="0" y2="-5.84" stroke="#555" stroke-width="0.6"/>
<line x1="-1.4" y1="-9.26" x2="0" y2="-9.26" stroke="#555" stroke-width="0.6"/>
<line x1="-1.4" y1="-11.68" x2="0" y2="-11.68" stroke="#555" stroke-width="0.6"/>
<line x1="-1.4" y1="-13.56" x2="0" y2="-13.56" stroke="#555" stroke-width="0.6"/>
<line x1="-1.4" y1="-15.10" x2="0" y2="-15.10" stroke="#555" stroke-width="0.6"/>
<line x1="-1.4" y1="-16.39" x2="0" y2="-16.39" stroke="#555" stroke-width="0.6"/>
<line x1="-1.4" y1="-17.52" x2="0" y2="-17.52" stroke="#555" stroke-width="0.6"/>
<line x1="-1.4" y1="-18.51" x2="0" y2="-18.51" stroke="#555" stroke-width="0.6"/>
<line x1="-2.4" y1="-19.40" x2="0" y2="-19.40" stroke="#555" stroke-width="0.6"/>
<line x1="-1.4" y1="-25.24" x2="0" y2="-25.24" stroke="#555" stroke-width="0.6"/>
<line x1="-1.4" y1="-28.66" x2="0" y2="-28.66" stroke="#555" stroke-width="0.6"/>
<line x1="-1.4" y1="-31.08" x2="0" y2="-31.08" stroke="#555" stroke-width="0.6"/>
<line x1="-1.4" y1="-32.96" x2="0" y2="-32.96" stroke="#555" stroke-width="0.6"/>
<line x1="-1.4" y1="-34.50" x2="0" y2="-34.50" stroke="#555" stroke-width="0.6"/>
<line x1="-1.4" y1="-35.79" x2="0" y2="-35.79" stroke="#555" stroke-width="0.6"/>
<line x1="-1.4" y1="-36.92" x2="0" y2="-36.92" stroke="#555" stroke-width="0.6"/>
<line x1="-1.4" y1="-37.91" x2="0" y2="-37.91" stroke="#555" stroke-width="0.6"/>
<line x1="-2.4" y1="-38.80" x2="0" y2="-38.80" stroke="#555" stroke-width="0.7"/>
<text x="-7.9" y="2.40" text-anchor="middle" font-size="6.9" fill="#222">0</text>
<text x="-7.9" y="-17.00" text-anchor="middle" font-size="6.9" fill="#222">1</text>
<text x="-7.9" y="-36.40" text-anchor="middle" font-size="6.9" fill="#222">2</text>
<text x="0.80" y="11.0" text-anchor="middle" font-size="6.9" fill="#222">0</text>
<text x="17.94" y="11.0" text-anchor="middle" font-size="6.9" fill="#222">2</text>
<text x="35.08" y="11.0" text-anchor="middle" font-size="6.9" fill="#222">4</text>
<text x="52.22" y="11.0" text-anchor="middle" font-size="6.9" fill="#222">6</text>
<text x="19.3" y="19.4" text-anchor="middle" font-size="7" textLength="8" lengthAdjust="spacingAndGlyphs" fill="#222">2N</text>
<text x="38.0" y="19.4" text-anchor="middle" font-size="7" textLength="8" lengthAdjust="spacingAndGlyphs" fill="#222">4N</text>
<line x1="0" y1="-8.2" x2="52.8" y2="-24.83" stroke="#333" stroke-width="0.85"/>
<g transform="translate(0,0)">
<polyline points="16.4,-13.4 16.4,-35.2 24,-35.2 21.9,-14.9" fill="none" stroke="#666" stroke-width="0.6"/>
<circle cx="16.4" cy="-35.2" r="0.6" fill="#444"/>
<text x="21.4" y="-35.4" font-size="3.9" font-weight="bold" fill="#444">R5</text>
</g>
<text x="41.4" y="-32.2" font-size="3.9" font-weight="bold" fill="#555">R2</text>
<text x="42" y="-17.4" font-size="3.9" font-weight="bold" fill="#555">R3</text>
</g>
<text x="282.8" y="35.6" font-size="6.55" textLength="60.4" lengthAdjust="spacingAndGlyphs" fill="#2a2a2a" xml:space="preserve">% of R2 in R5  = 13%</text>
<text x="282.8" y="45.0" font-size="6.55" textLength="60.4" lengthAdjust="spacingAndGlyphs" fill="#2a2a2a" xml:space="preserve">S-Phase in R5 = 13%</text>
<text x="282.8" y="54.6" font-size="6.55" textLength="75.8" lengthAdjust="spacingAndGlyphs" fill="#2a2a2a" xml:space="preserve">S-Phase outside R5 = 87%</text>
<text x="282.8" y="64.0" font-size="6.55" textLength="34.8" lengthAdjust="spacingAndGlyphs" fill="#2a2a2a" xml:space="preserve">G0/G1 = 0%</text>
<text x="282.8" y="103.0" font-size="6.55" textLength="60.4" lengthAdjust="spacingAndGlyphs" fill="#2a2a2a" xml:space="preserve">% of R2 in R5  = 21%</text>
<text x="282.8" y="113.4" font-size="6.55" textLength="56.9" lengthAdjust="spacingAndGlyphs" fill="#2a2a2a" xml:space="preserve">S-Phase in R5 = 0%</text>
<text x="282.8" y="123.4" font-size="6.55" textLength="38.3" lengthAdjust="spacingAndGlyphs" fill="#2a2a2a" xml:space="preserve">G0/G1 = 21%</text>
<text x="282.8" y="171.7" font-size="6.55" textLength="58.7" lengthAdjust="spacingAndGlyphs" fill="#2a2a2a" xml:space="preserve">% of R2 in R5 = 46%</text>
<text x="282.8" y="243.5" font-size="6.55" textLength="58.7" lengthAdjust="spacingAndGlyphs" fill="#2a2a2a" xml:space="preserve">% of R2 in R5 = 30%</text>
<text x="282.8" y="253.4" font-size="6.55" textLength="60.4" lengthAdjust="spacingAndGlyphs" fill="#2a2a2a" xml:space="preserve">S-Phase in R5 = 10%</text>
<text x="282.8" y="264.1" font-size="6.55" textLength="75.8" lengthAdjust="spacingAndGlyphs" fill="#2a2a2a" xml:space="preserve">S-Phase outside R5 = 70%</text>
<text x="282.8" y="274.2" font-size="6.55" textLength="38.3" lengthAdjust="spacingAndGlyphs" fill="#2a2a2a" xml:space="preserve">G0/G1 = 20%</text>
<text x="282.8" y="316.1" font-size="6.55" textLength="58.7" lengthAdjust="spacingAndGlyphs" fill="#2a2a2a" xml:space="preserve">% of R2 in R5 = 17%</text>
<text x="282.8" y="326.4" font-size="6.55" textLength="60.4" lengthAdjust="spacingAndGlyphs" fill="#2a2a2a" xml:space="preserve">S-Phase in R5 = 12%</text>
<text x="282.8" y="336.8" font-size="6.55" textLength="75.8" lengthAdjust="spacingAndGlyphs" fill="#2a2a2a" xml:space="preserve">S-Phase outside R5 = 83%</text>
<text x="282.8" y="346.2" font-size="6.55" textLength="34.8" lengthAdjust="spacingAndGlyphs" fill="#2a2a2a" xml:space="preserve">G0/G1 = 5%</text>
<text x="444.0" y="35.6" font-size="6.55" textLength="60.4" lengthAdjust="spacingAndGlyphs" fill="#2a2a2a" xml:space="preserve">% of R2 in R5  = 13%</text>
<text x="444.0" y="44.6" font-size="6.55" textLength="60.4" lengthAdjust="spacingAndGlyphs" fill="#2a2a2a" xml:space="preserve">S-Phase in R5 = 13%</text>
<text x="444.0" y="54.4" font-size="6.55" textLength="75.8" lengthAdjust="spacingAndGlyphs" fill="#2a2a2a" xml:space="preserve">S-Phase outside R5 = 87%</text>
<text x="444.0" y="63.6" font-size="6.55" textLength="34.8" lengthAdjust="spacingAndGlyphs" fill="#2a2a2a" xml:space="preserve">G0/G1 = 0%</text>
<text x="444.3" y="102.9" font-size="6.55" textLength="60.4" lengthAdjust="spacingAndGlyphs" fill="#2a2a2a" xml:space="preserve">% of R2 in R5  = 23%</text>
<text x="444.3" y="112.2" font-size="6.55" textLength="56.9" lengthAdjust="spacingAndGlyphs" fill="#2a2a2a" xml:space="preserve">S-Phase in R5 = 0%</text>
<text x="444.3" y="123.0" font-size="6.55" textLength="38.3" lengthAdjust="spacingAndGlyphs" fill="#2a2a2a" xml:space="preserve">G0/G1 = 23%</text>
<text x="444.3" y="173.4" font-size="6.55" textLength="60.4" lengthAdjust="spacingAndGlyphs" fill="#2a2a2a" xml:space="preserve">% of R2 in R5  = 51%</text>
<text x="444.0" y="245.8" font-size="6.55" textLength="60.4" lengthAdjust="spacingAndGlyphs" fill="#2a2a2a" xml:space="preserve">% of R2 in R5  = 46%</text>
<text x="444.0" y="255.2" font-size="6.55" textLength="56.9" lengthAdjust="spacingAndGlyphs" fill="#2a2a2a" xml:space="preserve">S-Phase in R5 = 8%</text>
<text x="444.0" y="265.1" font-size="6.55" textLength="75.8" lengthAdjust="spacingAndGlyphs" fill="#2a2a2a" xml:space="preserve">S-Phase outside R5 = 54%</text>
<text x="444.0" y="274.1" font-size="6.55" textLength="38.3" lengthAdjust="spacingAndGlyphs" fill="#2a2a2a" xml:space="preserve">G0/G1 = 38%</text>
<text x="444.0" y="318.4" font-size="6.55" textLength="60.4" lengthAdjust="spacingAndGlyphs" fill="#2a2a2a" xml:space="preserve">% of R2 in R5  = 39%</text>
<text x="444.0" y="327.7" font-size="6.55" textLength="56.9" lengthAdjust="spacingAndGlyphs" fill="#2a2a2a" xml:space="preserve">S-Phase in R5 = 9%</text>
<text x="444.0" y="337.0" font-size="6.55" textLength="75.8" lengthAdjust="spacingAndGlyphs" fill="#2a2a2a" xml:space="preserve">S-Phase outside R5 = 61%</text>
<text x="444.0" y="346.2" font-size="6.55" textLength="38.3" lengthAdjust="spacingAndGlyphs" fill="#2a2a2a" xml:space="preserve">G0/G1 = 30%</text>
</svg>
</body></html>
